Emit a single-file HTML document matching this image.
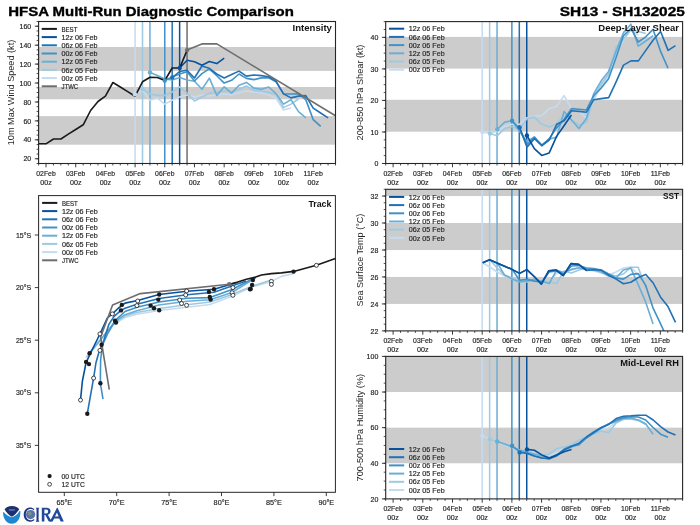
<!DOCTYPE html><html><head><meta charset="utf-8"><style>html,body{margin:0;padding:0;background:#fff;}svg{display:block;will-change:transform;}</style></head><body>
<svg width="700" height="525" viewBox="0 0 700 525" font-family='"Liberation Sans", sans-serif'>
<rect x="0" y="0" width="700" height="525" fill="#fff"/>
<text x="8.20" y="15.50" font-size="12.9" text-anchor="start" font-weight="bold" fill="#000" textLength="285.6" lengthAdjust="spacingAndGlyphs" stroke="#000" stroke-width="0.35">HFSA Multi-Run Diagnostic Comparison</text>
<text x="684.80" y="15.50" font-size="12.9" text-anchor="end" font-weight="bold" fill="#000" textLength="125.0" lengthAdjust="spacingAndGlyphs" stroke="#000" stroke-width="0.35">SH13 - SH132025</text>
<rect x="38.6" y="47.0" width="296.9" height="23.90" fill="#cccccc"/>
<rect x="38.6" y="87.0" width="296.9" height="12.30" fill="#cccccc"/>
<rect x="38.6" y="116.1" width="296.9" height="28.60" fill="#cccccc"/>
<line x1="135.09" y1="21.50" x2="135.09" y2="163.50" stroke="#c6dbef" stroke-width="1.5"/>
<line x1="142.51" y1="21.50" x2="142.51" y2="163.50" stroke="#9ecae1" stroke-width="1.5"/>
<line x1="149.94" y1="21.50" x2="149.94" y2="163.50" stroke="#6baed6" stroke-width="1.5"/>
<line x1="164.78" y1="21.50" x2="164.78" y2="163.50" stroke="#4292c6" stroke-width="1.5"/>
<line x1="172.20" y1="21.50" x2="172.20" y2="163.50" stroke="#2171b5" stroke-width="1.5"/>
<line x1="179.63" y1="21.50" x2="179.63" y2="163.50" stroke="#08519c" stroke-width="1.5"/>
<line x1="187.05" y1="21.50" x2="187.05" y2="163.50" stroke="#6e6e6e" stroke-width="1.5"/>
<polyline points="135.0,94.3 142.4,90.0 149.8,100.2 157.3,98.0 164.7,104.1 172.1,100.2 179.5,97.0 187.0,95.0 194.4,97.0 201.8,95.0 209.2,96.0 216.6,95.0 224.1,94.0 231.5,95.0 238.9,92.7 246.3,91.0 253.8,92.0 261.2,93.0 268.6,95.0 276.0,98.0 283.5,110.0 290.9,108.0" fill="none" stroke="#c6dbef" stroke-width="1.6" stroke-linejoin="round" stroke-linecap="butt"/>
<polyline points="142.5,89.0 149.9,94.0 157.3,95.4 164.8,95.4 172.2,92.0 179.6,86.8 187.0,93.0 194.5,101.0 201.9,97.0 209.3,93.4 216.7,92.0 224.1,91.0 231.6,92.0 239.0,89.3 246.4,85.9 253.8,90.4 261.3,91.0 268.7,92.5 276.1,94.0 283.5,107.6 291.0,104.1 298.4,99.0" fill="none" stroke="#9ecae1" stroke-width="1.6" stroke-linejoin="round" stroke-linecap="butt"/>
<polyline points="150.0,72.4 157.4,75.5 164.8,79.0 172.3,80.0 179.7,77.5 187.1,80.0 194.5,81.3 202.0,89.2 209.4,78.1 216.8,95.4 224.2,86.8 231.6,93.1 239.1,85.3 246.5,82.4 253.9,88.1 261.3,89.3 268.8,87.0 276.2,93.9 283.6,104.1 291.0,99.6 298.5,111.6 305.9,117.9" fill="none" stroke="#6baed6" stroke-width="1.6" stroke-linejoin="round" stroke-linecap="butt"/>
<polyline points="164.8,80.5 172.2,77.0 179.6,74.0 187.1,71.7 194.5,81.0 201.9,73.6 209.3,68.9 216.8,75.7 224.2,83.1 231.6,80.3 239.0,74.0 246.4,78.4 253.9,79.6 261.3,77.9 268.7,77.9 276.1,81.9 283.6,93.9 291.0,94.0 298.4,93.9 305.8,99.6 313.2,119.6 320.7,126.4" fill="none" stroke="#4292c6" stroke-width="1.6" stroke-linejoin="round" stroke-linecap="butt"/>
<polyline points="172.2,77.5 179.6,71.5 187.0,70.2 194.5,78.0 201.9,66.0 209.3,68.3 216.7,74.0 224.2,78.0 231.6,74.6 239.0,71.1 246.4,76.1 253.8,75.0 261.3,75.6 268.7,76.7 276.1,81.3 283.5,93.9 291.0,97.9 298.4,96.1 305.8,95.6 313.2,108.1 320.6,113.0 328.1,117.9" fill="none" stroke="#2171b5" stroke-width="1.6" stroke-linejoin="round" stroke-linecap="butt"/>
<polyline points="179.7,67.9 187.1,60.2 194.5,61.7 202.0,65.2 209.4,61.5 216.8,63.6 224.2,58.2" fill="none" stroke="#08519c" stroke-width="1.6" stroke-linejoin="round" stroke-linecap="butt"/>
<polyline points="38.6,143.8 46.0,143.8 53.5,139.0 60.9,139.0 68.3,134.2 75.7,129.5 83.2,124.8 90.6,110.5 98.0,101.5 105.4,96.2 112.9,82.5 120.3,87.0 127.7,91.6 135.1,96.2 142.5,81.8 150.0,77.3 157.4,77.5 164.8,80.5 172.2,68.0 179.7,68.0 187.1,50.1" fill="none" stroke="#1a1a1a" stroke-width="1.6" stroke-linejoin="round" stroke-linecap="butt"/>
<polyline points="187.1,50.1 201.9,43.9 216.8,43.9 335.5,115.8" fill="none" stroke="#6e6e6e" stroke-width="1.6" stroke-linejoin="round" stroke-linecap="butt"/>
<circle cx="135.0" cy="94.3" r="2.2" fill="#c6dbef"/>
<circle cx="142.5" cy="89.0" r="2.2" fill="#9ecae1"/>
<circle cx="150.0" cy="72.4" r="2.2" fill="#6baed6"/>
<circle cx="164.8" cy="80.5" r="2.2" fill="#4292c6"/>
<circle cx="172.2" cy="77.5" r="2.2" fill="#2171b5"/>
<circle cx="179.7" cy="67.9" r="2.2" fill="#08519c"/>
<circle cx="187.1" cy="50.1" r="2.2" fill="#6e6e6e"/>
<rect x="38.60" y="21.50" width="296.90" height="142.00" fill="none" stroke="#262626" stroke-width="1.1"/>
<line x1="36.60" y1="163.50" x2="38.60" y2="163.50" stroke="#262626" stroke-width="0.8"/>
<line x1="36.60" y1="158.77" x2="38.60" y2="158.77" stroke="#262626" stroke-width="0.8"/>
<line x1="36.60" y1="154.03" x2="38.60" y2="154.03" stroke="#262626" stroke-width="0.8"/>
<line x1="36.60" y1="149.30" x2="38.60" y2="149.30" stroke="#262626" stroke-width="0.8"/>
<line x1="36.60" y1="144.57" x2="38.60" y2="144.57" stroke="#262626" stroke-width="0.8"/>
<line x1="36.60" y1="139.83" x2="38.60" y2="139.83" stroke="#262626" stroke-width="0.8"/>
<line x1="36.60" y1="135.10" x2="38.60" y2="135.10" stroke="#262626" stroke-width="0.8"/>
<line x1="36.60" y1="130.37" x2="38.60" y2="130.37" stroke="#262626" stroke-width="0.8"/>
<line x1="36.60" y1="125.63" x2="38.60" y2="125.63" stroke="#262626" stroke-width="0.8"/>
<line x1="36.60" y1="120.90" x2="38.60" y2="120.90" stroke="#262626" stroke-width="0.8"/>
<line x1="36.60" y1="116.17" x2="38.60" y2="116.17" stroke="#262626" stroke-width="0.8"/>
<line x1="36.60" y1="111.43" x2="38.60" y2="111.43" stroke="#262626" stroke-width="0.8"/>
<line x1="36.60" y1="106.70" x2="38.60" y2="106.70" stroke="#262626" stroke-width="0.8"/>
<line x1="36.60" y1="101.97" x2="38.60" y2="101.97" stroke="#262626" stroke-width="0.8"/>
<line x1="36.60" y1="97.23" x2="38.60" y2="97.23" stroke="#262626" stroke-width="0.8"/>
<line x1="36.60" y1="92.50" x2="38.60" y2="92.50" stroke="#262626" stroke-width="0.8"/>
<line x1="36.60" y1="87.77" x2="38.60" y2="87.77" stroke="#262626" stroke-width="0.8"/>
<line x1="36.60" y1="83.03" x2="38.60" y2="83.03" stroke="#262626" stroke-width="0.8"/>
<line x1="36.60" y1="78.30" x2="38.60" y2="78.30" stroke="#262626" stroke-width="0.8"/>
<line x1="36.60" y1="73.57" x2="38.60" y2="73.57" stroke="#262626" stroke-width="0.8"/>
<line x1="36.60" y1="68.83" x2="38.60" y2="68.83" stroke="#262626" stroke-width="0.8"/>
<line x1="36.60" y1="64.10" x2="38.60" y2="64.10" stroke="#262626" stroke-width="0.8"/>
<line x1="36.60" y1="59.37" x2="38.60" y2="59.37" stroke="#262626" stroke-width="0.8"/>
<line x1="36.60" y1="54.63" x2="38.60" y2="54.63" stroke="#262626" stroke-width="0.8"/>
<line x1="36.60" y1="49.90" x2="38.60" y2="49.90" stroke="#262626" stroke-width="0.8"/>
<line x1="36.60" y1="45.17" x2="38.60" y2="45.17" stroke="#262626" stroke-width="0.8"/>
<line x1="36.60" y1="40.43" x2="38.60" y2="40.43" stroke="#262626" stroke-width="0.8"/>
<line x1="36.60" y1="35.70" x2="38.60" y2="35.70" stroke="#262626" stroke-width="0.8"/>
<line x1="36.60" y1="30.97" x2="38.60" y2="30.97" stroke="#262626" stroke-width="0.8"/>
<line x1="36.60" y1="26.23" x2="38.60" y2="26.23" stroke="#262626" stroke-width="0.8"/>
<line x1="36.60" y1="21.50" x2="38.60" y2="21.50" stroke="#262626" stroke-width="0.8"/>
<line x1="34.80" y1="158.77" x2="38.60" y2="158.77" stroke="#262626" stroke-width="0.9"/>
<text x="31.20" y="161.37" font-size="7.4" text-anchor="end" font-weight="normal" fill="#262626" textLength="7.8" lengthAdjust="spacingAndGlyphs" stroke="#262626" stroke-width="0.18">20</text>
<line x1="34.80" y1="139.83" x2="38.60" y2="139.83" stroke="#262626" stroke-width="0.9"/>
<text x="31.20" y="142.43" font-size="7.4" text-anchor="end" font-weight="normal" fill="#262626" textLength="7.8" lengthAdjust="spacingAndGlyphs" stroke="#262626" stroke-width="0.18">40</text>
<line x1="34.80" y1="120.90" x2="38.60" y2="120.90" stroke="#262626" stroke-width="0.9"/>
<text x="31.20" y="123.50" font-size="7.4" text-anchor="end" font-weight="normal" fill="#262626" textLength="7.8" lengthAdjust="spacingAndGlyphs" stroke="#262626" stroke-width="0.18">60</text>
<line x1="34.80" y1="101.97" x2="38.60" y2="101.97" stroke="#262626" stroke-width="0.9"/>
<text x="31.20" y="104.57" font-size="7.4" text-anchor="end" font-weight="normal" fill="#262626" textLength="7.8" lengthAdjust="spacingAndGlyphs" stroke="#262626" stroke-width="0.18">80</text>
<line x1="34.80" y1="83.03" x2="38.60" y2="83.03" stroke="#262626" stroke-width="0.9"/>
<text x="31.20" y="85.63" font-size="7.4" text-anchor="end" font-weight="normal" fill="#262626" textLength="11.7" lengthAdjust="spacingAndGlyphs" stroke="#262626" stroke-width="0.18">100</text>
<line x1="34.80" y1="64.10" x2="38.60" y2="64.10" stroke="#262626" stroke-width="0.9"/>
<text x="31.20" y="66.70" font-size="7.4" text-anchor="end" font-weight="normal" fill="#262626" textLength="11.7" lengthAdjust="spacingAndGlyphs" stroke="#262626" stroke-width="0.18">120</text>
<line x1="34.80" y1="45.17" x2="38.60" y2="45.17" stroke="#262626" stroke-width="0.9"/>
<text x="31.20" y="47.77" font-size="7.4" text-anchor="end" font-weight="normal" fill="#262626" textLength="11.7" lengthAdjust="spacingAndGlyphs" stroke="#262626" stroke-width="0.18">140</text>
<line x1="34.80" y1="26.23" x2="38.60" y2="26.23" stroke="#262626" stroke-width="0.9"/>
<text x="31.20" y="28.83" font-size="7.4" text-anchor="end" font-weight="normal" fill="#262626" textLength="11.7" lengthAdjust="spacingAndGlyphs" stroke="#262626" stroke-width="0.18">160</text>
<line x1="38.60" y1="163.50" x2="38.60" y2="165.50" stroke="#262626" stroke-width="0.8"/>
<line x1="46.02" y1="163.50" x2="46.02" y2="167.30" stroke="#262626" stroke-width="0.9"/>
<line x1="53.45" y1="163.50" x2="53.45" y2="165.50" stroke="#262626" stroke-width="0.8"/>
<line x1="60.87" y1="163.50" x2="60.87" y2="165.50" stroke="#262626" stroke-width="0.8"/>
<line x1="68.29" y1="163.50" x2="68.29" y2="165.50" stroke="#262626" stroke-width="0.8"/>
<line x1="75.71" y1="163.50" x2="75.71" y2="167.30" stroke="#262626" stroke-width="0.9"/>
<line x1="83.13" y1="163.50" x2="83.13" y2="165.50" stroke="#262626" stroke-width="0.8"/>
<line x1="90.56" y1="163.50" x2="90.56" y2="165.50" stroke="#262626" stroke-width="0.8"/>
<line x1="97.98" y1="163.50" x2="97.98" y2="165.50" stroke="#262626" stroke-width="0.8"/>
<line x1="105.40" y1="163.50" x2="105.40" y2="167.30" stroke="#262626" stroke-width="0.9"/>
<line x1="112.82" y1="163.50" x2="112.82" y2="165.50" stroke="#262626" stroke-width="0.8"/>
<line x1="120.25" y1="163.50" x2="120.25" y2="165.50" stroke="#262626" stroke-width="0.8"/>
<line x1="127.67" y1="163.50" x2="127.67" y2="165.50" stroke="#262626" stroke-width="0.8"/>
<line x1="135.09" y1="163.50" x2="135.09" y2="167.30" stroke="#262626" stroke-width="0.9"/>
<line x1="142.51" y1="163.50" x2="142.51" y2="165.50" stroke="#262626" stroke-width="0.8"/>
<line x1="149.94" y1="163.50" x2="149.94" y2="165.50" stroke="#262626" stroke-width="0.8"/>
<line x1="157.36" y1="163.50" x2="157.36" y2="165.50" stroke="#262626" stroke-width="0.8"/>
<line x1="164.78" y1="163.50" x2="164.78" y2="167.30" stroke="#262626" stroke-width="0.9"/>
<line x1="172.20" y1="163.50" x2="172.20" y2="165.50" stroke="#262626" stroke-width="0.8"/>
<line x1="179.63" y1="163.50" x2="179.63" y2="165.50" stroke="#262626" stroke-width="0.8"/>
<line x1="187.05" y1="163.50" x2="187.05" y2="165.50" stroke="#262626" stroke-width="0.8"/>
<line x1="194.47" y1="163.50" x2="194.47" y2="167.30" stroke="#262626" stroke-width="0.9"/>
<line x1="201.89" y1="163.50" x2="201.89" y2="165.50" stroke="#262626" stroke-width="0.8"/>
<line x1="209.32" y1="163.50" x2="209.32" y2="165.50" stroke="#262626" stroke-width="0.8"/>
<line x1="216.74" y1="163.50" x2="216.74" y2="165.50" stroke="#262626" stroke-width="0.8"/>
<line x1="224.16" y1="163.50" x2="224.16" y2="167.30" stroke="#262626" stroke-width="0.9"/>
<line x1="231.58" y1="163.50" x2="231.58" y2="165.50" stroke="#262626" stroke-width="0.8"/>
<line x1="239.01" y1="163.50" x2="239.01" y2="165.50" stroke="#262626" stroke-width="0.8"/>
<line x1="246.43" y1="163.50" x2="246.43" y2="165.50" stroke="#262626" stroke-width="0.8"/>
<line x1="253.85" y1="163.50" x2="253.85" y2="167.30" stroke="#262626" stroke-width="0.9"/>
<line x1="261.28" y1="163.50" x2="261.28" y2="165.50" stroke="#262626" stroke-width="0.8"/>
<line x1="268.70" y1="163.50" x2="268.70" y2="165.50" stroke="#262626" stroke-width="0.8"/>
<line x1="276.12" y1="163.50" x2="276.12" y2="165.50" stroke="#262626" stroke-width="0.8"/>
<line x1="283.54" y1="163.50" x2="283.54" y2="167.30" stroke="#262626" stroke-width="0.9"/>
<line x1="290.96" y1="163.50" x2="290.96" y2="165.50" stroke="#262626" stroke-width="0.8"/>
<line x1="298.39" y1="163.50" x2="298.39" y2="165.50" stroke="#262626" stroke-width="0.8"/>
<line x1="305.81" y1="163.50" x2="305.81" y2="165.50" stroke="#262626" stroke-width="0.8"/>
<line x1="313.23" y1="163.50" x2="313.23" y2="167.30" stroke="#262626" stroke-width="0.9"/>
<line x1="320.65" y1="163.50" x2="320.65" y2="165.50" stroke="#262626" stroke-width="0.8"/>
<line x1="328.08" y1="163.50" x2="328.08" y2="165.50" stroke="#262626" stroke-width="0.8"/>
<line x1="335.50" y1="163.50" x2="335.50" y2="165.50" stroke="#262626" stroke-width="0.8"/>
<text x="46.02" y="176.00" font-size="7.4" text-anchor="middle" font-weight="normal" fill="#262626" textLength="19.4" lengthAdjust="spacingAndGlyphs" stroke="#262626" stroke-width="0.18">02Feb</text>
<text x="46.02" y="184.90" font-size="7.4" text-anchor="middle" font-weight="normal" fill="#262626" textLength="11.5" lengthAdjust="spacingAndGlyphs" stroke="#262626" stroke-width="0.18">00z</text>
<text x="75.71" y="176.00" font-size="7.4" text-anchor="middle" font-weight="normal" fill="#262626" textLength="19.4" lengthAdjust="spacingAndGlyphs" stroke="#262626" stroke-width="0.18">03Feb</text>
<text x="75.71" y="184.90" font-size="7.4" text-anchor="middle" font-weight="normal" fill="#262626" textLength="11.5" lengthAdjust="spacingAndGlyphs" stroke="#262626" stroke-width="0.18">00z</text>
<text x="105.40" y="176.00" font-size="7.4" text-anchor="middle" font-weight="normal" fill="#262626" textLength="19.4" lengthAdjust="spacingAndGlyphs" stroke="#262626" stroke-width="0.18">04Feb</text>
<text x="105.40" y="184.90" font-size="7.4" text-anchor="middle" font-weight="normal" fill="#262626" textLength="11.5" lengthAdjust="spacingAndGlyphs" stroke="#262626" stroke-width="0.18">00z</text>
<text x="135.09" y="176.00" font-size="7.4" text-anchor="middle" font-weight="normal" fill="#262626" textLength="19.4" lengthAdjust="spacingAndGlyphs" stroke="#262626" stroke-width="0.18">05Feb</text>
<text x="135.09" y="184.90" font-size="7.4" text-anchor="middle" font-weight="normal" fill="#262626" textLength="11.5" lengthAdjust="spacingAndGlyphs" stroke="#262626" stroke-width="0.18">00z</text>
<text x="164.78" y="176.00" font-size="7.4" text-anchor="middle" font-weight="normal" fill="#262626" textLength="19.4" lengthAdjust="spacingAndGlyphs" stroke="#262626" stroke-width="0.18">06Feb</text>
<text x="164.78" y="184.90" font-size="7.4" text-anchor="middle" font-weight="normal" fill="#262626" textLength="11.5" lengthAdjust="spacingAndGlyphs" stroke="#262626" stroke-width="0.18">00z</text>
<text x="194.47" y="176.00" font-size="7.4" text-anchor="middle" font-weight="normal" fill="#262626" textLength="19.4" lengthAdjust="spacingAndGlyphs" stroke="#262626" stroke-width="0.18">07Feb</text>
<text x="194.47" y="184.90" font-size="7.4" text-anchor="middle" font-weight="normal" fill="#262626" textLength="11.5" lengthAdjust="spacingAndGlyphs" stroke="#262626" stroke-width="0.18">00z</text>
<text x="224.16" y="176.00" font-size="7.4" text-anchor="middle" font-weight="normal" fill="#262626" textLength="19.4" lengthAdjust="spacingAndGlyphs" stroke="#262626" stroke-width="0.18">08Feb</text>
<text x="224.16" y="184.90" font-size="7.4" text-anchor="middle" font-weight="normal" fill="#262626" textLength="11.5" lengthAdjust="spacingAndGlyphs" stroke="#262626" stroke-width="0.18">00z</text>
<text x="253.85" y="176.00" font-size="7.4" text-anchor="middle" font-weight="normal" fill="#262626" textLength="19.4" lengthAdjust="spacingAndGlyphs" stroke="#262626" stroke-width="0.18">09Feb</text>
<text x="253.85" y="184.90" font-size="7.4" text-anchor="middle" font-weight="normal" fill="#262626" textLength="11.5" lengthAdjust="spacingAndGlyphs" stroke="#262626" stroke-width="0.18">00z</text>
<text x="283.54" y="176.00" font-size="7.4" text-anchor="middle" font-weight="normal" fill="#262626" textLength="19.4" lengthAdjust="spacingAndGlyphs" stroke="#262626" stroke-width="0.18">10Feb</text>
<text x="283.54" y="184.90" font-size="7.4" text-anchor="middle" font-weight="normal" fill="#262626" textLength="11.5" lengthAdjust="spacingAndGlyphs" stroke="#262626" stroke-width="0.18">00z</text>
<text x="313.23" y="176.00" font-size="7.4" text-anchor="middle" font-weight="normal" fill="#262626" textLength="19.4" lengthAdjust="spacingAndGlyphs" stroke="#262626" stroke-width="0.18">11Feb</text>
<text x="313.23" y="184.90" font-size="7.4" text-anchor="middle" font-weight="normal" fill="#262626" textLength="11.5" lengthAdjust="spacingAndGlyphs" stroke="#262626" stroke-width="0.18">00z</text>
<text x="0" y="0" font-size="8.2" text-anchor="middle" fill="#262626" textLength="105.5" lengthAdjust="spacingAndGlyphs" transform="translate(14.00,92.50) rotate(-90)">10m Max Wind Speed (kt)</text>
<text x="331.90" y="30.90" font-size="8.4" text-anchor="end" font-weight="bold" fill="#111" textLength="39.4" lengthAdjust="spacingAndGlyphs">Intensity</text>
<line x1="41.70" y1="28.90" x2="56.90" y2="28.90" stroke="#1a1a1a" stroke-width="2.0"/>
<text x="61.50" y="31.50" font-size="7.4" text-anchor="start" font-weight="normal" fill="#262626" textLength="15.9" lengthAdjust="spacingAndGlyphs" stroke="#262626" stroke-width="0.18">BEST</text>
<line x1="41.70" y1="37.10" x2="56.90" y2="37.10" stroke="#08519c" stroke-width="2.0"/>
<text x="61.50" y="39.70" font-size="7.4" text-anchor="start" font-weight="normal" fill="#262626" textLength="35.9" lengthAdjust="spacingAndGlyphs" stroke="#262626" stroke-width="0.18">12z 06 Feb</text>
<line x1="41.70" y1="45.30" x2="56.90" y2="45.30" stroke="#2171b5" stroke-width="2.0"/>
<text x="61.50" y="47.90" font-size="7.4" text-anchor="start" font-weight="normal" fill="#262626" textLength="35.9" lengthAdjust="spacingAndGlyphs" stroke="#262626" stroke-width="0.18">06z 06 Feb</text>
<line x1="41.70" y1="53.50" x2="56.90" y2="53.50" stroke="#4292c6" stroke-width="2.0"/>
<text x="61.50" y="56.10" font-size="7.4" text-anchor="start" font-weight="normal" fill="#262626" textLength="35.9" lengthAdjust="spacingAndGlyphs" stroke="#262626" stroke-width="0.18">00z 06 Feb</text>
<line x1="41.70" y1="61.70" x2="56.90" y2="61.70" stroke="#6baed6" stroke-width="2.0"/>
<text x="61.50" y="64.30" font-size="7.4" text-anchor="start" font-weight="normal" fill="#262626" textLength="35.9" lengthAdjust="spacingAndGlyphs" stroke="#262626" stroke-width="0.18">12z 05 Feb</text>
<line x1="41.70" y1="69.90" x2="56.90" y2="69.90" stroke="#9ecae1" stroke-width="2.0"/>
<text x="61.50" y="72.50" font-size="7.4" text-anchor="start" font-weight="normal" fill="#262626" textLength="35.9" lengthAdjust="spacingAndGlyphs" stroke="#262626" stroke-width="0.18">06z 05 Feb</text>
<line x1="41.70" y1="78.10" x2="56.90" y2="78.10" stroke="#c6dbef" stroke-width="2.0"/>
<text x="61.50" y="80.70" font-size="7.4" text-anchor="start" font-weight="normal" fill="#262626" textLength="35.9" lengthAdjust="spacingAndGlyphs" stroke="#262626" stroke-width="0.18">00z 05 Feb</text>
<line x1="41.70" y1="86.30" x2="56.90" y2="86.30" stroke="#6e6e6e" stroke-width="2.0"/>
<text x="61.50" y="88.90" font-size="7.4" text-anchor="start" font-weight="normal" fill="#262626" textLength="16.7" lengthAdjust="spacingAndGlyphs" stroke="#262626" stroke-width="0.18">JTWC</text>
<rect x="385.7" y="36.9" width="296.9" height="31.70" fill="#cccccc"/>
<rect x="385.7" y="99.8" width="296.9" height="31.90" fill="#cccccc"/>
<line x1="482.19" y1="21.60" x2="482.19" y2="163.50" stroke="#c6dbef" stroke-width="1.5"/>
<line x1="489.62" y1="21.60" x2="489.62" y2="163.50" stroke="#9ecae1" stroke-width="1.5"/>
<line x1="497.04" y1="21.60" x2="497.04" y2="163.50" stroke="#6baed6" stroke-width="1.5"/>
<line x1="511.88" y1="21.60" x2="511.88" y2="163.50" stroke="#4292c6" stroke-width="1.5"/>
<line x1="519.31" y1="21.60" x2="519.31" y2="163.50" stroke="#2171b5" stroke-width="1.5"/>
<line x1="526.73" y1="21.60" x2="526.73" y2="163.50" stroke="#08519c" stroke-width="1.5"/>
<polyline points="482.4,132.1 489.8,132.9 497.2,131.4 504.7,126.4 512.1,124.3 519.5,124.3 526.9,117.9 534.4,116.4 541.8,115.7 549.2,108.6 556.6,106.4 564.0,95.7 571.5,108.6 578.9,111.4 586.3,118.0 593.7,100.0 601.2,86.0 608.6,76.0 616.0,55.0 623.4,40.0 630.9,30.0 638.3,35.0" fill="none" stroke="#c6dbef" stroke-width="1.6" stroke-linejoin="round" stroke-linecap="butt"/>
<polyline points="489.9,133.6 497.3,135.7 504.7,128.6 512.2,126.4 519.6,129.3 527.0,118.6 534.4,117.1 541.9,124.3 549.3,127.1 556.7,123.6 564.1,115.0 571.5,120.0 579.0,125.0 586.4,122.7 593.8,97.0 601.2,84.0 608.7,74.0 616.1,47.3 623.5,38.9 630.9,29.4 638.4,31.5 645.8,33.6" fill="none" stroke="#9ecae1" stroke-width="1.6" stroke-linejoin="round" stroke-linecap="butt"/>
<polyline points="497.3,129.3 504.7,122.1 512.1,120.7 519.6,131.4 527.0,141.4 534.4,137.0 541.8,145.0 549.3,139.3 556.7,137.1 564.1,111.4 571.5,120.0 578.9,128.6 586.4,118.5 593.8,93.4 601.2,80.8 608.6,71.4 616.1,51.4 623.5,32.6 630.9,24.2 638.3,46.2 645.8,41.0 653.2,35.7" fill="none" stroke="#6baed6" stroke-width="1.6" stroke-linejoin="round" stroke-linecap="butt"/>
<polyline points="512.1,120.7 519.5,128.6 526.9,144.3 534.4,137.1 541.8,145.7 549.2,138.6 556.6,127.9 564.1,119.3 571.5,108.6 578.9,109.3 586.3,110.0 593.7,95.5 601.2,88.1 608.6,78.7 616.0,57.7 623.4,35.7 630.9,28.4 638.3,42.0 645.7,36.8 653.1,29.4 660.6,51.4 668.0,68.2" fill="none" stroke="#4292c6" stroke-width="1.6" stroke-linejoin="round" stroke-linecap="butt"/>
<polyline points="519.6,127.4 527.0,147.1 534.4,138.6 541.9,145.7 549.3,140.0 556.7,124.3 564.1,120.7 571.6,110.7 579.0,111.4 586.4,112.2 593.8,99.7 601.2,98.6 608.7,97.6 616.1,81.8 623.5,65.1 630.9,60.9 638.4,60.9 645.8,50.4 653.2,40.0 660.6,31.5 668.1,50.4 675.5,45.6" fill="none" stroke="#2171b5" stroke-width="1.6" stroke-linejoin="round" stroke-linecap="butt"/>
<polyline points="526.9,135.4 534.3,148.6 541.7,155.4 549.2,152.9 556.6,136.4 564.0,125.7 571.4,115.0" fill="none" stroke="#08519c" stroke-width="1.6" stroke-linejoin="round" stroke-linecap="butt"/>
<circle cx="482.4" cy="132.1" r="2.2" fill="#c6dbef"/>
<circle cx="489.9" cy="133.6" r="2.2" fill="#9ecae1"/>
<circle cx="497.3" cy="129.3" r="2.2" fill="#6baed6"/>
<circle cx="512.1" cy="120.7" r="2.2" fill="#4292c6"/>
<circle cx="519.6" cy="127.4" r="2.2" fill="#2171b5"/>
<circle cx="526.9" cy="135.4" r="2.2" fill="#08519c"/>
<rect x="385.70" y="21.60" width="296.90" height="141.90" fill="none" stroke="#262626" stroke-width="1.1"/>
<line x1="383.70" y1="163.50" x2="385.70" y2="163.50" stroke="#262626" stroke-width="0.8"/>
<line x1="383.70" y1="155.62" x2="385.70" y2="155.62" stroke="#262626" stroke-width="0.8"/>
<line x1="383.70" y1="147.73" x2="385.70" y2="147.73" stroke="#262626" stroke-width="0.8"/>
<line x1="383.70" y1="139.85" x2="385.70" y2="139.85" stroke="#262626" stroke-width="0.8"/>
<line x1="383.70" y1="131.97" x2="385.70" y2="131.97" stroke="#262626" stroke-width="0.8"/>
<line x1="383.70" y1="124.08" x2="385.70" y2="124.08" stroke="#262626" stroke-width="0.8"/>
<line x1="383.70" y1="116.20" x2="385.70" y2="116.20" stroke="#262626" stroke-width="0.8"/>
<line x1="383.70" y1="108.32" x2="385.70" y2="108.32" stroke="#262626" stroke-width="0.8"/>
<line x1="383.70" y1="100.43" x2="385.70" y2="100.43" stroke="#262626" stroke-width="0.8"/>
<line x1="383.70" y1="92.55" x2="385.70" y2="92.55" stroke="#262626" stroke-width="0.8"/>
<line x1="383.70" y1="84.67" x2="385.70" y2="84.67" stroke="#262626" stroke-width="0.8"/>
<line x1="383.70" y1="76.78" x2="385.70" y2="76.78" stroke="#262626" stroke-width="0.8"/>
<line x1="383.70" y1="68.90" x2="385.70" y2="68.90" stroke="#262626" stroke-width="0.8"/>
<line x1="383.70" y1="61.02" x2="385.70" y2="61.02" stroke="#262626" stroke-width="0.8"/>
<line x1="383.70" y1="53.13" x2="385.70" y2="53.13" stroke="#262626" stroke-width="0.8"/>
<line x1="383.70" y1="45.25" x2="385.70" y2="45.25" stroke="#262626" stroke-width="0.8"/>
<line x1="383.70" y1="37.37" x2="385.70" y2="37.37" stroke="#262626" stroke-width="0.8"/>
<line x1="383.70" y1="29.48" x2="385.70" y2="29.48" stroke="#262626" stroke-width="0.8"/>
<line x1="383.70" y1="21.60" x2="385.70" y2="21.60" stroke="#262626" stroke-width="0.8"/>
<line x1="381.90" y1="163.50" x2="385.70" y2="163.50" stroke="#262626" stroke-width="0.9"/>
<text x="378.30" y="166.10" font-size="7.4" text-anchor="end" font-weight="normal" fill="#262626" textLength="3.9" lengthAdjust="spacingAndGlyphs" stroke="#262626" stroke-width="0.18">0</text>
<line x1="381.90" y1="131.97" x2="385.70" y2="131.97" stroke="#262626" stroke-width="0.9"/>
<text x="378.30" y="134.57" font-size="7.4" text-anchor="end" font-weight="normal" fill="#262626" textLength="7.8" lengthAdjust="spacingAndGlyphs" stroke="#262626" stroke-width="0.18">10</text>
<line x1="381.90" y1="100.43" x2="385.70" y2="100.43" stroke="#262626" stroke-width="0.9"/>
<text x="378.30" y="103.03" font-size="7.4" text-anchor="end" font-weight="normal" fill="#262626" textLength="7.8" lengthAdjust="spacingAndGlyphs" stroke="#262626" stroke-width="0.18">20</text>
<line x1="381.90" y1="68.90" x2="385.70" y2="68.90" stroke="#262626" stroke-width="0.9"/>
<text x="378.30" y="71.50" font-size="7.4" text-anchor="end" font-weight="normal" fill="#262626" textLength="7.8" lengthAdjust="spacingAndGlyphs" stroke="#262626" stroke-width="0.18">30</text>
<line x1="381.90" y1="37.37" x2="385.70" y2="37.37" stroke="#262626" stroke-width="0.9"/>
<text x="378.30" y="39.97" font-size="7.4" text-anchor="end" font-weight="normal" fill="#262626" textLength="7.8" lengthAdjust="spacingAndGlyphs" stroke="#262626" stroke-width="0.18">40</text>
<line x1="385.70" y1="163.50" x2="385.70" y2="165.50" stroke="#262626" stroke-width="0.8"/>
<line x1="393.12" y1="163.50" x2="393.12" y2="167.30" stroke="#262626" stroke-width="0.9"/>
<line x1="400.55" y1="163.50" x2="400.55" y2="165.50" stroke="#262626" stroke-width="0.8"/>
<line x1="407.97" y1="163.50" x2="407.97" y2="165.50" stroke="#262626" stroke-width="0.8"/>
<line x1="415.39" y1="163.50" x2="415.39" y2="165.50" stroke="#262626" stroke-width="0.8"/>
<line x1="422.81" y1="163.50" x2="422.81" y2="167.30" stroke="#262626" stroke-width="0.9"/>
<line x1="430.24" y1="163.50" x2="430.24" y2="165.50" stroke="#262626" stroke-width="0.8"/>
<line x1="437.66" y1="163.50" x2="437.66" y2="165.50" stroke="#262626" stroke-width="0.8"/>
<line x1="445.08" y1="163.50" x2="445.08" y2="165.50" stroke="#262626" stroke-width="0.8"/>
<line x1="452.50" y1="163.50" x2="452.50" y2="167.30" stroke="#262626" stroke-width="0.9"/>
<line x1="459.93" y1="163.50" x2="459.93" y2="165.50" stroke="#262626" stroke-width="0.8"/>
<line x1="467.35" y1="163.50" x2="467.35" y2="165.50" stroke="#262626" stroke-width="0.8"/>
<line x1="474.77" y1="163.50" x2="474.77" y2="165.50" stroke="#262626" stroke-width="0.8"/>
<line x1="482.19" y1="163.50" x2="482.19" y2="167.30" stroke="#262626" stroke-width="0.9"/>
<line x1="489.62" y1="163.50" x2="489.62" y2="165.50" stroke="#262626" stroke-width="0.8"/>
<line x1="497.04" y1="163.50" x2="497.04" y2="165.50" stroke="#262626" stroke-width="0.8"/>
<line x1="504.46" y1="163.50" x2="504.46" y2="165.50" stroke="#262626" stroke-width="0.8"/>
<line x1="511.88" y1="163.50" x2="511.88" y2="167.30" stroke="#262626" stroke-width="0.9"/>
<line x1="519.31" y1="163.50" x2="519.31" y2="165.50" stroke="#262626" stroke-width="0.8"/>
<line x1="526.73" y1="163.50" x2="526.73" y2="165.50" stroke="#262626" stroke-width="0.8"/>
<line x1="534.15" y1="163.50" x2="534.15" y2="165.50" stroke="#262626" stroke-width="0.8"/>
<line x1="541.57" y1="163.50" x2="541.57" y2="167.30" stroke="#262626" stroke-width="0.9"/>
<line x1="549.00" y1="163.50" x2="549.00" y2="165.50" stroke="#262626" stroke-width="0.8"/>
<line x1="556.42" y1="163.50" x2="556.42" y2="165.50" stroke="#262626" stroke-width="0.8"/>
<line x1="563.84" y1="163.50" x2="563.84" y2="165.50" stroke="#262626" stroke-width="0.8"/>
<line x1="571.26" y1="163.50" x2="571.26" y2="167.30" stroke="#262626" stroke-width="0.9"/>
<line x1="578.68" y1="163.50" x2="578.68" y2="165.50" stroke="#262626" stroke-width="0.8"/>
<line x1="586.11" y1="163.50" x2="586.11" y2="165.50" stroke="#262626" stroke-width="0.8"/>
<line x1="593.53" y1="163.50" x2="593.53" y2="165.50" stroke="#262626" stroke-width="0.8"/>
<line x1="600.95" y1="163.50" x2="600.95" y2="167.30" stroke="#262626" stroke-width="0.9"/>
<line x1="608.38" y1="163.50" x2="608.38" y2="165.50" stroke="#262626" stroke-width="0.8"/>
<line x1="615.80" y1="163.50" x2="615.80" y2="165.50" stroke="#262626" stroke-width="0.8"/>
<line x1="623.22" y1="163.50" x2="623.22" y2="165.50" stroke="#262626" stroke-width="0.8"/>
<line x1="630.64" y1="163.50" x2="630.64" y2="167.30" stroke="#262626" stroke-width="0.9"/>
<line x1="638.07" y1="163.50" x2="638.07" y2="165.50" stroke="#262626" stroke-width="0.8"/>
<line x1="645.49" y1="163.50" x2="645.49" y2="165.50" stroke="#262626" stroke-width="0.8"/>
<line x1="652.91" y1="163.50" x2="652.91" y2="165.50" stroke="#262626" stroke-width="0.8"/>
<line x1="660.33" y1="163.50" x2="660.33" y2="167.30" stroke="#262626" stroke-width="0.9"/>
<line x1="667.75" y1="163.50" x2="667.75" y2="165.50" stroke="#262626" stroke-width="0.8"/>
<line x1="675.18" y1="163.50" x2="675.18" y2="165.50" stroke="#262626" stroke-width="0.8"/>
<line x1="682.60" y1="163.50" x2="682.60" y2="165.50" stroke="#262626" stroke-width="0.8"/>
<text x="393.12" y="176.00" font-size="7.4" text-anchor="middle" font-weight="normal" fill="#262626" textLength="19.4" lengthAdjust="spacingAndGlyphs" stroke="#262626" stroke-width="0.18">02Feb</text>
<text x="393.12" y="184.90" font-size="7.4" text-anchor="middle" font-weight="normal" fill="#262626" textLength="11.5" lengthAdjust="spacingAndGlyphs" stroke="#262626" stroke-width="0.18">00z</text>
<text x="422.81" y="176.00" font-size="7.4" text-anchor="middle" font-weight="normal" fill="#262626" textLength="19.4" lengthAdjust="spacingAndGlyphs" stroke="#262626" stroke-width="0.18">03Feb</text>
<text x="422.81" y="184.90" font-size="7.4" text-anchor="middle" font-weight="normal" fill="#262626" textLength="11.5" lengthAdjust="spacingAndGlyphs" stroke="#262626" stroke-width="0.18">00z</text>
<text x="452.50" y="176.00" font-size="7.4" text-anchor="middle" font-weight="normal" fill="#262626" textLength="19.4" lengthAdjust="spacingAndGlyphs" stroke="#262626" stroke-width="0.18">04Feb</text>
<text x="452.50" y="184.90" font-size="7.4" text-anchor="middle" font-weight="normal" fill="#262626" textLength="11.5" lengthAdjust="spacingAndGlyphs" stroke="#262626" stroke-width="0.18">00z</text>
<text x="482.19" y="176.00" font-size="7.4" text-anchor="middle" font-weight="normal" fill="#262626" textLength="19.4" lengthAdjust="spacingAndGlyphs" stroke="#262626" stroke-width="0.18">05Feb</text>
<text x="482.19" y="184.90" font-size="7.4" text-anchor="middle" font-weight="normal" fill="#262626" textLength="11.5" lengthAdjust="spacingAndGlyphs" stroke="#262626" stroke-width="0.18">00z</text>
<text x="511.88" y="176.00" font-size="7.4" text-anchor="middle" font-weight="normal" fill="#262626" textLength="19.4" lengthAdjust="spacingAndGlyphs" stroke="#262626" stroke-width="0.18">06Feb</text>
<text x="511.88" y="184.90" font-size="7.4" text-anchor="middle" font-weight="normal" fill="#262626" textLength="11.5" lengthAdjust="spacingAndGlyphs" stroke="#262626" stroke-width="0.18">00z</text>
<text x="541.57" y="176.00" font-size="7.4" text-anchor="middle" font-weight="normal" fill="#262626" textLength="19.4" lengthAdjust="spacingAndGlyphs" stroke="#262626" stroke-width="0.18">07Feb</text>
<text x="541.57" y="184.90" font-size="7.4" text-anchor="middle" font-weight="normal" fill="#262626" textLength="11.5" lengthAdjust="spacingAndGlyphs" stroke="#262626" stroke-width="0.18">00z</text>
<text x="571.26" y="176.00" font-size="7.4" text-anchor="middle" font-weight="normal" fill="#262626" textLength="19.4" lengthAdjust="spacingAndGlyphs" stroke="#262626" stroke-width="0.18">08Feb</text>
<text x="571.26" y="184.90" font-size="7.4" text-anchor="middle" font-weight="normal" fill="#262626" textLength="11.5" lengthAdjust="spacingAndGlyphs" stroke="#262626" stroke-width="0.18">00z</text>
<text x="600.95" y="176.00" font-size="7.4" text-anchor="middle" font-weight="normal" fill="#262626" textLength="19.4" lengthAdjust="spacingAndGlyphs" stroke="#262626" stroke-width="0.18">09Feb</text>
<text x="600.95" y="184.90" font-size="7.4" text-anchor="middle" font-weight="normal" fill="#262626" textLength="11.5" lengthAdjust="spacingAndGlyphs" stroke="#262626" stroke-width="0.18">00z</text>
<text x="630.64" y="176.00" font-size="7.4" text-anchor="middle" font-weight="normal" fill="#262626" textLength="19.4" lengthAdjust="spacingAndGlyphs" stroke="#262626" stroke-width="0.18">10Feb</text>
<text x="630.64" y="184.90" font-size="7.4" text-anchor="middle" font-weight="normal" fill="#262626" textLength="11.5" lengthAdjust="spacingAndGlyphs" stroke="#262626" stroke-width="0.18">00z</text>
<text x="660.33" y="176.00" font-size="7.4" text-anchor="middle" font-weight="normal" fill="#262626" textLength="19.4" lengthAdjust="spacingAndGlyphs" stroke="#262626" stroke-width="0.18">11Feb</text>
<text x="660.33" y="184.90" font-size="7.4" text-anchor="middle" font-weight="normal" fill="#262626" textLength="11.5" lengthAdjust="spacingAndGlyphs" stroke="#262626" stroke-width="0.18">00z</text>
<text x="0" y="0" font-size="8.2" text-anchor="middle" fill="#262626" textLength="95.7" lengthAdjust="spacingAndGlyphs" transform="translate(363.10,92.55) rotate(-90)">200-850 hPa Shear (kt)</text>
<text x="679.00" y="31.00" font-size="8.4" text-anchor="end" font-weight="bold" fill="#111" textLength="80.7" lengthAdjust="spacingAndGlyphs">Deep-Layer Shear</text>
<line x1="389.00" y1="28.70" x2="404.20" y2="28.70" stroke="#08519c" stroke-width="2.0"/>
<text x="408.80" y="31.30" font-size="7.4" text-anchor="start" font-weight="normal" fill="#262626" textLength="35.9" lengthAdjust="spacingAndGlyphs" stroke="#262626" stroke-width="0.18">12z 06 Feb</text>
<line x1="389.00" y1="36.90" x2="404.20" y2="36.90" stroke="#2171b5" stroke-width="2.0"/>
<text x="408.80" y="39.50" font-size="7.4" text-anchor="start" font-weight="normal" fill="#262626" textLength="35.9" lengthAdjust="spacingAndGlyphs" stroke="#262626" stroke-width="0.18">06z 06 Feb</text>
<line x1="389.00" y1="45.10" x2="404.20" y2="45.10" stroke="#4292c6" stroke-width="2.0"/>
<text x="408.80" y="47.70" font-size="7.4" text-anchor="start" font-weight="normal" fill="#262626" textLength="35.9" lengthAdjust="spacingAndGlyphs" stroke="#262626" stroke-width="0.18">00z 06 Feb</text>
<line x1="389.00" y1="53.30" x2="404.20" y2="53.30" stroke="#6baed6" stroke-width="2.0"/>
<text x="408.80" y="55.90" font-size="7.4" text-anchor="start" font-weight="normal" fill="#262626" textLength="35.9" lengthAdjust="spacingAndGlyphs" stroke="#262626" stroke-width="0.18">12z 05 Feb</text>
<line x1="389.00" y1="61.50" x2="404.20" y2="61.50" stroke="#9ecae1" stroke-width="2.0"/>
<text x="408.80" y="64.10" font-size="7.4" text-anchor="start" font-weight="normal" fill="#262626" textLength="35.9" lengthAdjust="spacingAndGlyphs" stroke="#262626" stroke-width="0.18">06z 05 Feb</text>
<line x1="389.00" y1="69.70" x2="404.20" y2="69.70" stroke="#c6dbef" stroke-width="2.0"/>
<text x="408.80" y="72.30" font-size="7.4" text-anchor="start" font-weight="normal" fill="#262626" textLength="35.9" lengthAdjust="spacingAndGlyphs" stroke="#262626" stroke-width="0.18">00z 05 Feb</text>
<rect x="385.70" y="276.96" width="296.90" height="26.97" fill="#cccccc"/>
<rect x="385.70" y="223.01" width="296.90" height="26.97" fill="#cccccc"/>
<rect x="385.70" y="189.30" width="296.90" height="6.74" fill="#cccccc"/>
<line x1="482.19" y1="189.30" x2="482.19" y2="330.90" stroke="#c6dbef" stroke-width="1.5"/>
<line x1="489.62" y1="189.30" x2="489.62" y2="330.90" stroke="#9ecae1" stroke-width="1.5"/>
<line x1="497.04" y1="189.30" x2="497.04" y2="330.90" stroke="#6baed6" stroke-width="1.5"/>
<line x1="511.88" y1="189.30" x2="511.88" y2="330.90" stroke="#4292c6" stroke-width="1.5"/>
<line x1="519.31" y1="189.30" x2="519.31" y2="330.90" stroke="#2171b5" stroke-width="1.5"/>
<line x1="526.73" y1="189.30" x2="526.73" y2="330.90" stroke="#08519c" stroke-width="1.5"/>
<clipPath id="csst"><rect x="385.7" y="189.3" width="296.90" height="141.60"/></clipPath>
<g clip-path="url(#csst)">
<polyline points="482.4,262.7 489.8,267.0 497.2,272.0 504.7,276.0 512.1,279.0 519.5,281.0 526.9,281.0 534.4,280.0 541.8,281.0 549.2,283.0 556.6,273.0 564.0,272.0 571.5,270.0 578.9,268.0 586.3,269.0 593.7,271.0 601.2,273.0 608.6,275.0 616.0,272.0 623.4,268.0 630.9,267.0 638.3,275.2" fill="none" stroke="#c6dbef" stroke-width="1.6" stroke-linejoin="round" stroke-linecap="butt"/>
<polyline points="489.8,259.7 497.2,268.0 504.6,275.1 512.1,278.0 519.5,281.0 526.9,282.0 534.3,280.0 541.8,281.0 549.2,282.0 556.6,283.5 564.0,271.0 571.4,273.0 578.9,270.0 586.3,268.0 593.7,269.4 601.1,271.0 608.6,274.0 616.0,276.0 623.4,274.0 630.8,267.3 638.2,267.3 645.7,287.7" fill="none" stroke="#9ecae1" stroke-width="1.6" stroke-linejoin="round" stroke-linecap="butt"/>
<polyline points="497.2,262.7 504.6,275.1 512.0,279.0 519.5,282.0 526.9,281.0 534.3,279.4 541.7,281.2 549.2,283.5 556.6,270.2 564.0,272.5 571.4,269.4 578.8,267.8 586.3,269.4 593.7,270.0 601.1,272.0 608.5,276.0 616.0,278.0 623.4,270.0 630.8,268.1 638.2,284.6 645.6,301.9 653.1,323.9" fill="none" stroke="#6baed6" stroke-width="1.6" stroke-linejoin="round" stroke-linecap="butt"/>
<polyline points="512.1,269.1 519.5,280.3 526.9,279.4 534.4,281.1 541.8,282.0 549.2,272.0 556.6,271.0 564.1,274.0 571.5,266.0 578.9,265.5 586.3,268.0 593.7,268.5 601.2,270.0 608.6,274.0 616.0,278.0 623.4,279.1 630.9,274.4 638.3,273.6 645.7,285.4 653.1,308.2 660.6,323.9 668.0,340.0" fill="none" stroke="#4292c6" stroke-width="1.6" stroke-linejoin="round" stroke-linecap="butt"/>
<polyline points="482.7,262.7 489.6,259.7 496.4,262.7 504.0,266.0 511.4,269.1 519.6,273.4 526.8,269.6 534.2,276.5 541.4,284.1 548.7,270.9 556.0,270.0 563.3,275.6 571.0,263.6 578.7,264.4 586.4,270.4 593.8,269.7 601.2,270.1 608.6,275.2 616.1,279.1 623.5,283.8 630.9,282.2 638.3,277.5 645.8,274.4 653.2,283.0 660.6,297.2 668.0,306.6 675.5,322.3" fill="none" stroke="#2171b5" stroke-width="1.6" stroke-linejoin="round" stroke-linecap="butt"/>
<polyline points="482.7,262.7 489.6,259.7 496.4,262.7 504.0,266.0 511.4,269.1 519.6,273.4 526.8,269.6 534.2,276.5 541.4,284.1 548.7,270.9 556.0,270.0 563.3,275.6 571.0,263.6 578.7,264.4 586.4,270.4" fill="none" stroke="#08519c" stroke-width="1.6" stroke-linejoin="round" stroke-linecap="butt"/>
</g>
<rect x="385.70" y="189.30" width="296.90" height="141.60" fill="none" stroke="#262626" stroke-width="1.1"/>
<line x1="383.70" y1="330.90" x2="385.70" y2="330.90" stroke="#262626" stroke-width="0.8"/>
<line x1="383.70" y1="324.16" x2="385.70" y2="324.16" stroke="#262626" stroke-width="0.8"/>
<line x1="383.70" y1="317.41" x2="385.70" y2="317.41" stroke="#262626" stroke-width="0.8"/>
<line x1="383.70" y1="310.67" x2="385.70" y2="310.67" stroke="#262626" stroke-width="0.8"/>
<line x1="383.70" y1="303.93" x2="385.70" y2="303.93" stroke="#262626" stroke-width="0.8"/>
<line x1="383.70" y1="297.19" x2="385.70" y2="297.19" stroke="#262626" stroke-width="0.8"/>
<line x1="383.70" y1="290.44" x2="385.70" y2="290.44" stroke="#262626" stroke-width="0.8"/>
<line x1="383.70" y1="283.70" x2="385.70" y2="283.70" stroke="#262626" stroke-width="0.8"/>
<line x1="383.70" y1="276.96" x2="385.70" y2="276.96" stroke="#262626" stroke-width="0.8"/>
<line x1="383.70" y1="270.21" x2="385.70" y2="270.21" stroke="#262626" stroke-width="0.8"/>
<line x1="383.70" y1="263.47" x2="385.70" y2="263.47" stroke="#262626" stroke-width="0.8"/>
<line x1="383.70" y1="256.73" x2="385.70" y2="256.73" stroke="#262626" stroke-width="0.8"/>
<line x1="383.70" y1="249.99" x2="385.70" y2="249.99" stroke="#262626" stroke-width="0.8"/>
<line x1="383.70" y1="243.24" x2="385.70" y2="243.24" stroke="#262626" stroke-width="0.8"/>
<line x1="383.70" y1="236.50" x2="385.70" y2="236.50" stroke="#262626" stroke-width="0.8"/>
<line x1="383.70" y1="229.76" x2="385.70" y2="229.76" stroke="#262626" stroke-width="0.8"/>
<line x1="383.70" y1="223.01" x2="385.70" y2="223.01" stroke="#262626" stroke-width="0.8"/>
<line x1="383.70" y1="216.27" x2="385.70" y2="216.27" stroke="#262626" stroke-width="0.8"/>
<line x1="383.70" y1="209.53" x2="385.70" y2="209.53" stroke="#262626" stroke-width="0.8"/>
<line x1="383.70" y1="202.79" x2="385.70" y2="202.79" stroke="#262626" stroke-width="0.8"/>
<line x1="383.70" y1="196.04" x2="385.70" y2="196.04" stroke="#262626" stroke-width="0.8"/>
<line x1="383.70" y1="189.30" x2="385.70" y2="189.30" stroke="#262626" stroke-width="0.8"/>
<line x1="381.90" y1="330.90" x2="385.70" y2="330.90" stroke="#262626" stroke-width="0.9"/>
<text x="378.30" y="333.50" font-size="7.4" text-anchor="end" font-weight="normal" fill="#262626" textLength="7.8" lengthAdjust="spacingAndGlyphs" stroke="#262626" stroke-width="0.18">22</text>
<line x1="381.90" y1="303.93" x2="385.70" y2="303.93" stroke="#262626" stroke-width="0.9"/>
<text x="378.30" y="306.53" font-size="7.4" text-anchor="end" font-weight="normal" fill="#262626" textLength="7.8" lengthAdjust="spacingAndGlyphs" stroke="#262626" stroke-width="0.18">24</text>
<line x1="381.90" y1="276.96" x2="385.70" y2="276.96" stroke="#262626" stroke-width="0.9"/>
<text x="378.30" y="279.56" font-size="7.4" text-anchor="end" font-weight="normal" fill="#262626" textLength="7.8" lengthAdjust="spacingAndGlyphs" stroke="#262626" stroke-width="0.18">26</text>
<line x1="381.90" y1="249.99" x2="385.70" y2="249.99" stroke="#262626" stroke-width="0.9"/>
<text x="378.30" y="252.59" font-size="7.4" text-anchor="end" font-weight="normal" fill="#262626" textLength="7.8" lengthAdjust="spacingAndGlyphs" stroke="#262626" stroke-width="0.18">28</text>
<line x1="381.90" y1="223.01" x2="385.70" y2="223.01" stroke="#262626" stroke-width="0.9"/>
<text x="378.30" y="225.61" font-size="7.4" text-anchor="end" font-weight="normal" fill="#262626" textLength="7.8" lengthAdjust="spacingAndGlyphs" stroke="#262626" stroke-width="0.18">30</text>
<line x1="381.90" y1="196.04" x2="385.70" y2="196.04" stroke="#262626" stroke-width="0.9"/>
<text x="378.30" y="198.64" font-size="7.4" text-anchor="end" font-weight="normal" fill="#262626" textLength="7.8" lengthAdjust="spacingAndGlyphs" stroke="#262626" stroke-width="0.18">32</text>
<line x1="385.70" y1="330.90" x2="385.70" y2="332.90" stroke="#262626" stroke-width="0.8"/>
<line x1="393.12" y1="330.90" x2="393.12" y2="334.70" stroke="#262626" stroke-width="0.9"/>
<line x1="400.55" y1="330.90" x2="400.55" y2="332.90" stroke="#262626" stroke-width="0.8"/>
<line x1="407.97" y1="330.90" x2="407.97" y2="332.90" stroke="#262626" stroke-width="0.8"/>
<line x1="415.39" y1="330.90" x2="415.39" y2="332.90" stroke="#262626" stroke-width="0.8"/>
<line x1="422.81" y1="330.90" x2="422.81" y2="334.70" stroke="#262626" stroke-width="0.9"/>
<line x1="430.24" y1="330.90" x2="430.24" y2="332.90" stroke="#262626" stroke-width="0.8"/>
<line x1="437.66" y1="330.90" x2="437.66" y2="332.90" stroke="#262626" stroke-width="0.8"/>
<line x1="445.08" y1="330.90" x2="445.08" y2="332.90" stroke="#262626" stroke-width="0.8"/>
<line x1="452.50" y1="330.90" x2="452.50" y2="334.70" stroke="#262626" stroke-width="0.9"/>
<line x1="459.93" y1="330.90" x2="459.93" y2="332.90" stroke="#262626" stroke-width="0.8"/>
<line x1="467.35" y1="330.90" x2="467.35" y2="332.90" stroke="#262626" stroke-width="0.8"/>
<line x1="474.77" y1="330.90" x2="474.77" y2="332.90" stroke="#262626" stroke-width="0.8"/>
<line x1="482.19" y1="330.90" x2="482.19" y2="334.70" stroke="#262626" stroke-width="0.9"/>
<line x1="489.62" y1="330.90" x2="489.62" y2="332.90" stroke="#262626" stroke-width="0.8"/>
<line x1="497.04" y1="330.90" x2="497.04" y2="332.90" stroke="#262626" stroke-width="0.8"/>
<line x1="504.46" y1="330.90" x2="504.46" y2="332.90" stroke="#262626" stroke-width="0.8"/>
<line x1="511.88" y1="330.90" x2="511.88" y2="334.70" stroke="#262626" stroke-width="0.9"/>
<line x1="519.31" y1="330.90" x2="519.31" y2="332.90" stroke="#262626" stroke-width="0.8"/>
<line x1="526.73" y1="330.90" x2="526.73" y2="332.90" stroke="#262626" stroke-width="0.8"/>
<line x1="534.15" y1="330.90" x2="534.15" y2="332.90" stroke="#262626" stroke-width="0.8"/>
<line x1="541.57" y1="330.90" x2="541.57" y2="334.70" stroke="#262626" stroke-width="0.9"/>
<line x1="549.00" y1="330.90" x2="549.00" y2="332.90" stroke="#262626" stroke-width="0.8"/>
<line x1="556.42" y1="330.90" x2="556.42" y2="332.90" stroke="#262626" stroke-width="0.8"/>
<line x1="563.84" y1="330.90" x2="563.84" y2="332.90" stroke="#262626" stroke-width="0.8"/>
<line x1="571.26" y1="330.90" x2="571.26" y2="334.70" stroke="#262626" stroke-width="0.9"/>
<line x1="578.68" y1="330.90" x2="578.68" y2="332.90" stroke="#262626" stroke-width="0.8"/>
<line x1="586.11" y1="330.90" x2="586.11" y2="332.90" stroke="#262626" stroke-width="0.8"/>
<line x1="593.53" y1="330.90" x2="593.53" y2="332.90" stroke="#262626" stroke-width="0.8"/>
<line x1="600.95" y1="330.90" x2="600.95" y2="334.70" stroke="#262626" stroke-width="0.9"/>
<line x1="608.38" y1="330.90" x2="608.38" y2="332.90" stroke="#262626" stroke-width="0.8"/>
<line x1="615.80" y1="330.90" x2="615.80" y2="332.90" stroke="#262626" stroke-width="0.8"/>
<line x1="623.22" y1="330.90" x2="623.22" y2="332.90" stroke="#262626" stroke-width="0.8"/>
<line x1="630.64" y1="330.90" x2="630.64" y2="334.70" stroke="#262626" stroke-width="0.9"/>
<line x1="638.07" y1="330.90" x2="638.07" y2="332.90" stroke="#262626" stroke-width="0.8"/>
<line x1="645.49" y1="330.90" x2="645.49" y2="332.90" stroke="#262626" stroke-width="0.8"/>
<line x1="652.91" y1="330.90" x2="652.91" y2="332.90" stroke="#262626" stroke-width="0.8"/>
<line x1="660.33" y1="330.90" x2="660.33" y2="334.70" stroke="#262626" stroke-width="0.9"/>
<line x1="667.75" y1="330.90" x2="667.75" y2="332.90" stroke="#262626" stroke-width="0.8"/>
<line x1="675.18" y1="330.90" x2="675.18" y2="332.90" stroke="#262626" stroke-width="0.8"/>
<line x1="682.60" y1="330.90" x2="682.60" y2="332.90" stroke="#262626" stroke-width="0.8"/>
<text x="393.12" y="343.40" font-size="7.4" text-anchor="middle" font-weight="normal" fill="#262626" textLength="19.4" lengthAdjust="spacingAndGlyphs" stroke="#262626" stroke-width="0.18">02Feb</text>
<text x="393.12" y="352.30" font-size="7.4" text-anchor="middle" font-weight="normal" fill="#262626" textLength="11.5" lengthAdjust="spacingAndGlyphs" stroke="#262626" stroke-width="0.18">00z</text>
<text x="422.81" y="343.40" font-size="7.4" text-anchor="middle" font-weight="normal" fill="#262626" textLength="19.4" lengthAdjust="spacingAndGlyphs" stroke="#262626" stroke-width="0.18">03Feb</text>
<text x="422.81" y="352.30" font-size="7.4" text-anchor="middle" font-weight="normal" fill="#262626" textLength="11.5" lengthAdjust="spacingAndGlyphs" stroke="#262626" stroke-width="0.18">00z</text>
<text x="452.50" y="343.40" font-size="7.4" text-anchor="middle" font-weight="normal" fill="#262626" textLength="19.4" lengthAdjust="spacingAndGlyphs" stroke="#262626" stroke-width="0.18">04Feb</text>
<text x="452.50" y="352.30" font-size="7.4" text-anchor="middle" font-weight="normal" fill="#262626" textLength="11.5" lengthAdjust="spacingAndGlyphs" stroke="#262626" stroke-width="0.18">00z</text>
<text x="482.19" y="343.40" font-size="7.4" text-anchor="middle" font-weight="normal" fill="#262626" textLength="19.4" lengthAdjust="spacingAndGlyphs" stroke="#262626" stroke-width="0.18">05Feb</text>
<text x="482.19" y="352.30" font-size="7.4" text-anchor="middle" font-weight="normal" fill="#262626" textLength="11.5" lengthAdjust="spacingAndGlyphs" stroke="#262626" stroke-width="0.18">00z</text>
<text x="511.88" y="343.40" font-size="7.4" text-anchor="middle" font-weight="normal" fill="#262626" textLength="19.4" lengthAdjust="spacingAndGlyphs" stroke="#262626" stroke-width="0.18">06Feb</text>
<text x="511.88" y="352.30" font-size="7.4" text-anchor="middle" font-weight="normal" fill="#262626" textLength="11.5" lengthAdjust="spacingAndGlyphs" stroke="#262626" stroke-width="0.18">00z</text>
<text x="541.57" y="343.40" font-size="7.4" text-anchor="middle" font-weight="normal" fill="#262626" textLength="19.4" lengthAdjust="spacingAndGlyphs" stroke="#262626" stroke-width="0.18">07Feb</text>
<text x="541.57" y="352.30" font-size="7.4" text-anchor="middle" font-weight="normal" fill="#262626" textLength="11.5" lengthAdjust="spacingAndGlyphs" stroke="#262626" stroke-width="0.18">00z</text>
<text x="571.26" y="343.40" font-size="7.4" text-anchor="middle" font-weight="normal" fill="#262626" textLength="19.4" lengthAdjust="spacingAndGlyphs" stroke="#262626" stroke-width="0.18">08Feb</text>
<text x="571.26" y="352.30" font-size="7.4" text-anchor="middle" font-weight="normal" fill="#262626" textLength="11.5" lengthAdjust="spacingAndGlyphs" stroke="#262626" stroke-width="0.18">00z</text>
<text x="600.95" y="343.40" font-size="7.4" text-anchor="middle" font-weight="normal" fill="#262626" textLength="19.4" lengthAdjust="spacingAndGlyphs" stroke="#262626" stroke-width="0.18">09Feb</text>
<text x="600.95" y="352.30" font-size="7.4" text-anchor="middle" font-weight="normal" fill="#262626" textLength="11.5" lengthAdjust="spacingAndGlyphs" stroke="#262626" stroke-width="0.18">00z</text>
<text x="630.64" y="343.40" font-size="7.4" text-anchor="middle" font-weight="normal" fill="#262626" textLength="19.4" lengthAdjust="spacingAndGlyphs" stroke="#262626" stroke-width="0.18">10Feb</text>
<text x="630.64" y="352.30" font-size="7.4" text-anchor="middle" font-weight="normal" fill="#262626" textLength="11.5" lengthAdjust="spacingAndGlyphs" stroke="#262626" stroke-width="0.18">00z</text>
<text x="660.33" y="343.40" font-size="7.4" text-anchor="middle" font-weight="normal" fill="#262626" textLength="19.4" lengthAdjust="spacingAndGlyphs" stroke="#262626" stroke-width="0.18">11Feb</text>
<text x="660.33" y="352.30" font-size="7.4" text-anchor="middle" font-weight="normal" fill="#262626" textLength="11.5" lengthAdjust="spacingAndGlyphs" stroke="#262626" stroke-width="0.18">00z</text>
<text x="0" y="0" font-size="8.2" text-anchor="middle" fill="#262626" textLength="92.8" lengthAdjust="spacingAndGlyphs" transform="translate(363.10,260.10) rotate(-90)">Sea Surface Temp (°C)</text>
<text x="679.00" y="198.70" font-size="8.4" text-anchor="end" font-weight="bold" fill="#111" textLength="16.1" lengthAdjust="spacingAndGlyphs">SST</text>
<line x1="389.00" y1="196.90" x2="404.20" y2="196.90" stroke="#08519c" stroke-width="2.0"/>
<text x="408.80" y="199.50" font-size="7.4" text-anchor="start" font-weight="normal" fill="#262626" textLength="35.9" lengthAdjust="spacingAndGlyphs" stroke="#262626" stroke-width="0.18">12z 06 Feb</text>
<line x1="389.00" y1="205.10" x2="404.20" y2="205.10" stroke="#2171b5" stroke-width="2.0"/>
<text x="408.80" y="207.70" font-size="7.4" text-anchor="start" font-weight="normal" fill="#262626" textLength="35.9" lengthAdjust="spacingAndGlyphs" stroke="#262626" stroke-width="0.18">06z 06 Feb</text>
<line x1="389.00" y1="213.30" x2="404.20" y2="213.30" stroke="#4292c6" stroke-width="2.0"/>
<text x="408.80" y="215.90" font-size="7.4" text-anchor="start" font-weight="normal" fill="#262626" textLength="35.9" lengthAdjust="spacingAndGlyphs" stroke="#262626" stroke-width="0.18">00z 06 Feb</text>
<line x1="389.00" y1="221.50" x2="404.20" y2="221.50" stroke="#6baed6" stroke-width="2.0"/>
<text x="408.80" y="224.10" font-size="7.4" text-anchor="start" font-weight="normal" fill="#262626" textLength="35.9" lengthAdjust="spacingAndGlyphs" stroke="#262626" stroke-width="0.18">12z 05 Feb</text>
<line x1="389.00" y1="229.70" x2="404.20" y2="229.70" stroke="#9ecae1" stroke-width="2.0"/>
<text x="408.80" y="232.30" font-size="7.4" text-anchor="start" font-weight="normal" fill="#262626" textLength="35.9" lengthAdjust="spacingAndGlyphs" stroke="#262626" stroke-width="0.18">06z 05 Feb</text>
<line x1="389.00" y1="237.90" x2="404.20" y2="237.90" stroke="#c6dbef" stroke-width="2.0"/>
<text x="408.80" y="240.50" font-size="7.4" text-anchor="start" font-weight="normal" fill="#262626" textLength="35.9" lengthAdjust="spacingAndGlyphs" stroke="#262626" stroke-width="0.18">00z 05 Feb</text>
<rect x="385.70" y="427.65" width="296.90" height="35.62" fill="#cccccc"/>
<rect x="385.70" y="356.40" width="296.90" height="35.62" fill="#cccccc"/>
<line x1="482.19" y1="356.40" x2="482.19" y2="498.90" stroke="#c6dbef" stroke-width="1.5"/>
<line x1="489.62" y1="356.40" x2="489.62" y2="498.90" stroke="#9ecae1" stroke-width="1.5"/>
<line x1="497.04" y1="356.40" x2="497.04" y2="498.90" stroke="#6baed6" stroke-width="1.5"/>
<line x1="511.88" y1="356.40" x2="511.88" y2="498.90" stroke="#4292c6" stroke-width="1.5"/>
<line x1="519.31" y1="356.40" x2="519.31" y2="498.90" stroke="#2171b5" stroke-width="1.5"/>
<line x1="526.73" y1="356.40" x2="526.73" y2="498.90" stroke="#08519c" stroke-width="1.5"/>
<polyline points="482.4,435.7 489.8,439.0 497.2,442.0 504.7,445.0 512.1,447.5 519.5,450.0 526.9,452.0 534.4,453.5 541.8,454.5 549.2,455.0 556.6,453.0 564.0,448.0 571.5,446.0 578.9,443.0 586.3,438.0 593.7,434.0 601.2,430.0 608.6,428.0 616.0,422.0 623.4,419.5 630.9,419.0 638.3,421.0" fill="none" stroke="#c6dbef" stroke-width="1.6" stroke-linejoin="round" stroke-linecap="butt"/>
<polyline points="489.8,439.2 497.2,441.5 504.6,444.0 512.1,447.0 519.5,450.0 526.9,452.0 534.3,454.0 541.8,455.0 549.2,454.1 556.6,448.6 564.0,447.0 571.4,445.0 578.9,440.0 586.3,437.0 593.7,434.0 601.1,431.0 608.6,432.7 616.0,423.0 623.4,419.2 630.8,418.5 638.2,420.0 645.7,424.5" fill="none" stroke="#9ecae1" stroke-width="1.6" stroke-linejoin="round" stroke-linecap="butt"/>
<polyline points="497.2,441.5 504.6,444.0 512.0,447.0 519.5,450.0 526.9,452.0 534.3,454.0 541.7,456.0 549.2,458.0 556.6,456.0 564.0,450.0 571.4,447.0 578.8,444.7 586.3,438.0 593.7,433.0 601.1,428.0 608.5,424.0 616.0,421.5 623.4,418.5 630.8,418.2 638.2,420.0 645.6,423.7 653.1,434.2" fill="none" stroke="#6baed6" stroke-width="1.6" stroke-linejoin="round" stroke-linecap="butt"/>
<polyline points="512.1,445.8 519.5,451.7 526.9,453.3 534.4,456.0 541.8,458.0 549.2,458.8 556.6,455.0 564.1,449.0 571.5,446.0 578.9,444.7 586.3,438.0 593.7,433.0 601.2,428.0 608.6,424.0 616.0,420.0 623.4,417.7 630.9,416.7 638.3,417.0 645.7,420.0 653.1,427.5 660.6,434.2 668.0,437.2" fill="none" stroke="#4292c6" stroke-width="1.6" stroke-linejoin="round" stroke-linecap="butt"/>
<polyline points="519.6,452.5 527.0,453.3 534.4,456.0 541.9,458.0 549.3,458.8 556.7,455.7 564.1,450.0 571.6,446.2 579.0,443.2 586.4,437.0 593.8,432.0 601.2,427.5 608.7,424.5 616.1,418.5 623.5,416.2 630.9,415.8 638.4,415.2 645.8,415.2 653.2,420.0 660.6,426.7 668.1,432.0 675.5,435.0" fill="none" stroke="#2171b5" stroke-width="1.6" stroke-linejoin="round" stroke-linecap="butt"/>
<polyline points="527.0,449.4 534.4,450.2 541.8,454.9 549.3,458.0 556.7,454.9 564.1,451.7 571.5,449.4" fill="none" stroke="#08519c" stroke-width="1.6" stroke-linejoin="round" stroke-linecap="butt"/>
<circle cx="482.4" cy="435.7" r="2.2" fill="#c6dbef"/>
<circle cx="489.8" cy="439.2" r="2.2" fill="#9ecae1"/>
<circle cx="497.2" cy="441.5" r="2.2" fill="#6baed6"/>
<circle cx="512.1" cy="445.8" r="2.2" fill="#4292c6"/>
<circle cx="519.6" cy="452.5" r="2.2" fill="#2171b5"/>
<circle cx="527.0" cy="449.4" r="2.2" fill="#08519c"/>
<rect x="385.70" y="356.40" width="296.90" height="142.50" fill="none" stroke="#262626" stroke-width="1.1"/>
<line x1="383.70" y1="498.90" x2="385.70" y2="498.90" stroke="#262626" stroke-width="0.8"/>
<line x1="383.70" y1="489.99" x2="385.70" y2="489.99" stroke="#262626" stroke-width="0.8"/>
<line x1="383.70" y1="481.09" x2="385.70" y2="481.09" stroke="#262626" stroke-width="0.8"/>
<line x1="383.70" y1="472.18" x2="385.70" y2="472.18" stroke="#262626" stroke-width="0.8"/>
<line x1="383.70" y1="463.27" x2="385.70" y2="463.27" stroke="#262626" stroke-width="0.8"/>
<line x1="383.70" y1="454.37" x2="385.70" y2="454.37" stroke="#262626" stroke-width="0.8"/>
<line x1="383.70" y1="445.46" x2="385.70" y2="445.46" stroke="#262626" stroke-width="0.8"/>
<line x1="383.70" y1="436.56" x2="385.70" y2="436.56" stroke="#262626" stroke-width="0.8"/>
<line x1="383.70" y1="427.65" x2="385.70" y2="427.65" stroke="#262626" stroke-width="0.8"/>
<line x1="383.70" y1="418.74" x2="385.70" y2="418.74" stroke="#262626" stroke-width="0.8"/>
<line x1="383.70" y1="409.84" x2="385.70" y2="409.84" stroke="#262626" stroke-width="0.8"/>
<line x1="383.70" y1="400.93" x2="385.70" y2="400.93" stroke="#262626" stroke-width="0.8"/>
<line x1="383.70" y1="392.02" x2="385.70" y2="392.02" stroke="#262626" stroke-width="0.8"/>
<line x1="383.70" y1="383.12" x2="385.70" y2="383.12" stroke="#262626" stroke-width="0.8"/>
<line x1="383.70" y1="374.21" x2="385.70" y2="374.21" stroke="#262626" stroke-width="0.8"/>
<line x1="383.70" y1="365.31" x2="385.70" y2="365.31" stroke="#262626" stroke-width="0.8"/>
<line x1="383.70" y1="356.40" x2="385.70" y2="356.40" stroke="#262626" stroke-width="0.8"/>
<line x1="381.90" y1="498.90" x2="385.70" y2="498.90" stroke="#262626" stroke-width="0.9"/>
<text x="378.30" y="501.50" font-size="7.4" text-anchor="end" font-weight="normal" fill="#262626" textLength="7.8" lengthAdjust="spacingAndGlyphs" stroke="#262626" stroke-width="0.18">20</text>
<line x1="381.90" y1="463.27" x2="385.70" y2="463.27" stroke="#262626" stroke-width="0.9"/>
<text x="378.30" y="465.88" font-size="7.4" text-anchor="end" font-weight="normal" fill="#262626" textLength="7.8" lengthAdjust="spacingAndGlyphs" stroke="#262626" stroke-width="0.18">40</text>
<line x1="381.90" y1="427.65" x2="385.70" y2="427.65" stroke="#262626" stroke-width="0.9"/>
<text x="378.30" y="430.25" font-size="7.4" text-anchor="end" font-weight="normal" fill="#262626" textLength="7.8" lengthAdjust="spacingAndGlyphs" stroke="#262626" stroke-width="0.18">60</text>
<line x1="381.90" y1="392.02" x2="385.70" y2="392.02" stroke="#262626" stroke-width="0.9"/>
<text x="378.30" y="394.62" font-size="7.4" text-anchor="end" font-weight="normal" fill="#262626" textLength="7.8" lengthAdjust="spacingAndGlyphs" stroke="#262626" stroke-width="0.18">80</text>
<line x1="381.90" y1="356.40" x2="385.70" y2="356.40" stroke="#262626" stroke-width="0.9"/>
<text x="378.30" y="359.00" font-size="7.4" text-anchor="end" font-weight="normal" fill="#262626" textLength="11.7" lengthAdjust="spacingAndGlyphs" stroke="#262626" stroke-width="0.18">100</text>
<line x1="385.70" y1="498.90" x2="385.70" y2="500.90" stroke="#262626" stroke-width="0.8"/>
<line x1="393.12" y1="498.90" x2="393.12" y2="502.70" stroke="#262626" stroke-width="0.9"/>
<line x1="400.55" y1="498.90" x2="400.55" y2="500.90" stroke="#262626" stroke-width="0.8"/>
<line x1="407.97" y1="498.90" x2="407.97" y2="500.90" stroke="#262626" stroke-width="0.8"/>
<line x1="415.39" y1="498.90" x2="415.39" y2="500.90" stroke="#262626" stroke-width="0.8"/>
<line x1="422.81" y1="498.90" x2="422.81" y2="502.70" stroke="#262626" stroke-width="0.9"/>
<line x1="430.24" y1="498.90" x2="430.24" y2="500.90" stroke="#262626" stroke-width="0.8"/>
<line x1="437.66" y1="498.90" x2="437.66" y2="500.90" stroke="#262626" stroke-width="0.8"/>
<line x1="445.08" y1="498.90" x2="445.08" y2="500.90" stroke="#262626" stroke-width="0.8"/>
<line x1="452.50" y1="498.90" x2="452.50" y2="502.70" stroke="#262626" stroke-width="0.9"/>
<line x1="459.93" y1="498.90" x2="459.93" y2="500.90" stroke="#262626" stroke-width="0.8"/>
<line x1="467.35" y1="498.90" x2="467.35" y2="500.90" stroke="#262626" stroke-width="0.8"/>
<line x1="474.77" y1="498.90" x2="474.77" y2="500.90" stroke="#262626" stroke-width="0.8"/>
<line x1="482.19" y1="498.90" x2="482.19" y2="502.70" stroke="#262626" stroke-width="0.9"/>
<line x1="489.62" y1="498.90" x2="489.62" y2="500.90" stroke="#262626" stroke-width="0.8"/>
<line x1="497.04" y1="498.90" x2="497.04" y2="500.90" stroke="#262626" stroke-width="0.8"/>
<line x1="504.46" y1="498.90" x2="504.46" y2="500.90" stroke="#262626" stroke-width="0.8"/>
<line x1="511.88" y1="498.90" x2="511.88" y2="502.70" stroke="#262626" stroke-width="0.9"/>
<line x1="519.31" y1="498.90" x2="519.31" y2="500.90" stroke="#262626" stroke-width="0.8"/>
<line x1="526.73" y1="498.90" x2="526.73" y2="500.90" stroke="#262626" stroke-width="0.8"/>
<line x1="534.15" y1="498.90" x2="534.15" y2="500.90" stroke="#262626" stroke-width="0.8"/>
<line x1="541.57" y1="498.90" x2="541.57" y2="502.70" stroke="#262626" stroke-width="0.9"/>
<line x1="549.00" y1="498.90" x2="549.00" y2="500.90" stroke="#262626" stroke-width="0.8"/>
<line x1="556.42" y1="498.90" x2="556.42" y2="500.90" stroke="#262626" stroke-width="0.8"/>
<line x1="563.84" y1="498.90" x2="563.84" y2="500.90" stroke="#262626" stroke-width="0.8"/>
<line x1="571.26" y1="498.90" x2="571.26" y2="502.70" stroke="#262626" stroke-width="0.9"/>
<line x1="578.68" y1="498.90" x2="578.68" y2="500.90" stroke="#262626" stroke-width="0.8"/>
<line x1="586.11" y1="498.90" x2="586.11" y2="500.90" stroke="#262626" stroke-width="0.8"/>
<line x1="593.53" y1="498.90" x2="593.53" y2="500.90" stroke="#262626" stroke-width="0.8"/>
<line x1="600.95" y1="498.90" x2="600.95" y2="502.70" stroke="#262626" stroke-width="0.9"/>
<line x1="608.38" y1="498.90" x2="608.38" y2="500.90" stroke="#262626" stroke-width="0.8"/>
<line x1="615.80" y1="498.90" x2="615.80" y2="500.90" stroke="#262626" stroke-width="0.8"/>
<line x1="623.22" y1="498.90" x2="623.22" y2="500.90" stroke="#262626" stroke-width="0.8"/>
<line x1="630.64" y1="498.90" x2="630.64" y2="502.70" stroke="#262626" stroke-width="0.9"/>
<line x1="638.07" y1="498.90" x2="638.07" y2="500.90" stroke="#262626" stroke-width="0.8"/>
<line x1="645.49" y1="498.90" x2="645.49" y2="500.90" stroke="#262626" stroke-width="0.8"/>
<line x1="652.91" y1="498.90" x2="652.91" y2="500.90" stroke="#262626" stroke-width="0.8"/>
<line x1="660.33" y1="498.90" x2="660.33" y2="502.70" stroke="#262626" stroke-width="0.9"/>
<line x1="667.75" y1="498.90" x2="667.75" y2="500.90" stroke="#262626" stroke-width="0.8"/>
<line x1="675.18" y1="498.90" x2="675.18" y2="500.90" stroke="#262626" stroke-width="0.8"/>
<line x1="682.60" y1="498.90" x2="682.60" y2="500.90" stroke="#262626" stroke-width="0.8"/>
<text x="393.12" y="511.40" font-size="7.4" text-anchor="middle" font-weight="normal" fill="#262626" textLength="19.4" lengthAdjust="spacingAndGlyphs" stroke="#262626" stroke-width="0.18">02Feb</text>
<text x="393.12" y="520.30" font-size="7.4" text-anchor="middle" font-weight="normal" fill="#262626" textLength="11.5" lengthAdjust="spacingAndGlyphs" stroke="#262626" stroke-width="0.18">00z</text>
<text x="422.81" y="511.40" font-size="7.4" text-anchor="middle" font-weight="normal" fill="#262626" textLength="19.4" lengthAdjust="spacingAndGlyphs" stroke="#262626" stroke-width="0.18">03Feb</text>
<text x="422.81" y="520.30" font-size="7.4" text-anchor="middle" font-weight="normal" fill="#262626" textLength="11.5" lengthAdjust="spacingAndGlyphs" stroke="#262626" stroke-width="0.18">00z</text>
<text x="452.50" y="511.40" font-size="7.4" text-anchor="middle" font-weight="normal" fill="#262626" textLength="19.4" lengthAdjust="spacingAndGlyphs" stroke="#262626" stroke-width="0.18">04Feb</text>
<text x="452.50" y="520.30" font-size="7.4" text-anchor="middle" font-weight="normal" fill="#262626" textLength="11.5" lengthAdjust="spacingAndGlyphs" stroke="#262626" stroke-width="0.18">00z</text>
<text x="482.19" y="511.40" font-size="7.4" text-anchor="middle" font-weight="normal" fill="#262626" textLength="19.4" lengthAdjust="spacingAndGlyphs" stroke="#262626" stroke-width="0.18">05Feb</text>
<text x="482.19" y="520.30" font-size="7.4" text-anchor="middle" font-weight="normal" fill="#262626" textLength="11.5" lengthAdjust="spacingAndGlyphs" stroke="#262626" stroke-width="0.18">00z</text>
<text x="511.88" y="511.40" font-size="7.4" text-anchor="middle" font-weight="normal" fill="#262626" textLength="19.4" lengthAdjust="spacingAndGlyphs" stroke="#262626" stroke-width="0.18">06Feb</text>
<text x="511.88" y="520.30" font-size="7.4" text-anchor="middle" font-weight="normal" fill="#262626" textLength="11.5" lengthAdjust="spacingAndGlyphs" stroke="#262626" stroke-width="0.18">00z</text>
<text x="541.57" y="511.40" font-size="7.4" text-anchor="middle" font-weight="normal" fill="#262626" textLength="19.4" lengthAdjust="spacingAndGlyphs" stroke="#262626" stroke-width="0.18">07Feb</text>
<text x="541.57" y="520.30" font-size="7.4" text-anchor="middle" font-weight="normal" fill="#262626" textLength="11.5" lengthAdjust="spacingAndGlyphs" stroke="#262626" stroke-width="0.18">00z</text>
<text x="571.26" y="511.40" font-size="7.4" text-anchor="middle" font-weight="normal" fill="#262626" textLength="19.4" lengthAdjust="spacingAndGlyphs" stroke="#262626" stroke-width="0.18">08Feb</text>
<text x="571.26" y="520.30" font-size="7.4" text-anchor="middle" font-weight="normal" fill="#262626" textLength="11.5" lengthAdjust="spacingAndGlyphs" stroke="#262626" stroke-width="0.18">00z</text>
<text x="600.95" y="511.40" font-size="7.4" text-anchor="middle" font-weight="normal" fill="#262626" textLength="19.4" lengthAdjust="spacingAndGlyphs" stroke="#262626" stroke-width="0.18">09Feb</text>
<text x="600.95" y="520.30" font-size="7.4" text-anchor="middle" font-weight="normal" fill="#262626" textLength="11.5" lengthAdjust="spacingAndGlyphs" stroke="#262626" stroke-width="0.18">00z</text>
<text x="630.64" y="511.40" font-size="7.4" text-anchor="middle" font-weight="normal" fill="#262626" textLength="19.4" lengthAdjust="spacingAndGlyphs" stroke="#262626" stroke-width="0.18">10Feb</text>
<text x="630.64" y="520.30" font-size="7.4" text-anchor="middle" font-weight="normal" fill="#262626" textLength="11.5" lengthAdjust="spacingAndGlyphs" stroke="#262626" stroke-width="0.18">00z</text>
<text x="660.33" y="511.40" font-size="7.4" text-anchor="middle" font-weight="normal" fill="#262626" textLength="19.4" lengthAdjust="spacingAndGlyphs" stroke="#262626" stroke-width="0.18">11Feb</text>
<text x="660.33" y="520.30" font-size="7.4" text-anchor="middle" font-weight="normal" fill="#262626" textLength="11.5" lengthAdjust="spacingAndGlyphs" stroke="#262626" stroke-width="0.18">00z</text>
<text x="0" y="0" font-size="8.2" text-anchor="middle" fill="#262626" textLength="107.5" lengthAdjust="spacingAndGlyphs" transform="translate(363.10,427.65) rotate(-90)">700-500 hPa Humidity (%)</text>
<text x="679.00" y="365.80" font-size="8.4" text-anchor="end" font-weight="bold" fill="#111" textLength="58.8" lengthAdjust="spacingAndGlyphs">Mid-Level RH</text>
<line x1="389.00" y1="449.00" x2="404.20" y2="449.00" stroke="#08519c" stroke-width="2.0"/>
<text x="408.80" y="451.60" font-size="7.4" text-anchor="start" font-weight="normal" fill="#262626" textLength="35.9" lengthAdjust="spacingAndGlyphs" stroke="#262626" stroke-width="0.18">12z 06 Feb</text>
<line x1="389.00" y1="457.20" x2="404.20" y2="457.20" stroke="#2171b5" stroke-width="2.0"/>
<text x="408.80" y="459.80" font-size="7.4" text-anchor="start" font-weight="normal" fill="#262626" textLength="35.9" lengthAdjust="spacingAndGlyphs" stroke="#262626" stroke-width="0.18">06z 06 Feb</text>
<line x1="389.00" y1="465.40" x2="404.20" y2="465.40" stroke="#4292c6" stroke-width="2.0"/>
<text x="408.80" y="468.00" font-size="7.4" text-anchor="start" font-weight="normal" fill="#262626" textLength="35.9" lengthAdjust="spacingAndGlyphs" stroke="#262626" stroke-width="0.18">00z 06 Feb</text>
<line x1="389.00" y1="473.60" x2="404.20" y2="473.60" stroke="#6baed6" stroke-width="2.0"/>
<text x="408.80" y="476.20" font-size="7.4" text-anchor="start" font-weight="normal" fill="#262626" textLength="35.9" lengthAdjust="spacingAndGlyphs" stroke="#262626" stroke-width="0.18">12z 05 Feb</text>
<line x1="389.00" y1="481.80" x2="404.20" y2="481.80" stroke="#9ecae1" stroke-width="2.0"/>
<text x="408.80" y="484.40" font-size="7.4" text-anchor="start" font-weight="normal" fill="#262626" textLength="35.9" lengthAdjust="spacingAndGlyphs" stroke="#262626" stroke-width="0.18">06z 05 Feb</text>
<line x1="389.00" y1="490.00" x2="404.20" y2="490.00" stroke="#c6dbef" stroke-width="2.0"/>
<text x="408.80" y="492.60" font-size="7.4" text-anchor="start" font-weight="normal" fill="#262626" textLength="35.9" lengthAdjust="spacingAndGlyphs" stroke="#262626" stroke-width="0.18">00z 05 Feb</text>
<rect x="38.6" y="195.6" width="296.80" height="296.70" fill="none" stroke="#262626" stroke-width="1"/>
<line x1="34.80" y1="235.00" x2="38.60" y2="235.00" stroke="#262626" stroke-width="0.9"/>
<text x="31.20" y="237.60" font-size="7.4" text-anchor="end" font-weight="normal" fill="#262626" textLength="15.3" lengthAdjust="spacingAndGlyphs" stroke="#262626" stroke-width="0.18">15°S</text>
<line x1="34.80" y1="287.60" x2="38.60" y2="287.60" stroke="#262626" stroke-width="0.9"/>
<text x="31.20" y="290.20" font-size="7.4" text-anchor="end" font-weight="normal" fill="#262626" textLength="15.3" lengthAdjust="spacingAndGlyphs" stroke="#262626" stroke-width="0.18">20°S</text>
<line x1="34.80" y1="340.20" x2="38.60" y2="340.20" stroke="#262626" stroke-width="0.9"/>
<text x="31.20" y="342.80" font-size="7.4" text-anchor="end" font-weight="normal" fill="#262626" textLength="15.3" lengthAdjust="spacingAndGlyphs" stroke="#262626" stroke-width="0.18">25°S</text>
<line x1="34.80" y1="392.80" x2="38.60" y2="392.80" stroke="#262626" stroke-width="0.9"/>
<text x="31.20" y="395.40" font-size="7.4" text-anchor="end" font-weight="normal" fill="#262626" textLength="15.3" lengthAdjust="spacingAndGlyphs" stroke="#262626" stroke-width="0.18">30°S</text>
<line x1="34.80" y1="445.40" x2="38.60" y2="445.40" stroke="#262626" stroke-width="0.9"/>
<text x="31.20" y="448.00" font-size="7.4" text-anchor="end" font-weight="normal" fill="#262626" textLength="15.3" lengthAdjust="spacingAndGlyphs" stroke="#262626" stroke-width="0.18">35°S</text>
<line x1="64.30" y1="492.30" x2="64.30" y2="496.10" stroke="#262626" stroke-width="0.9"/>
<text x="64.30" y="504.70" font-size="7.4" text-anchor="middle" font-weight="normal" fill="#262626" textLength="15.8" lengthAdjust="spacingAndGlyphs" stroke="#262626" stroke-width="0.18">65°E</text>
<line x1="116.70" y1="492.30" x2="116.70" y2="496.10" stroke="#262626" stroke-width="0.9"/>
<text x="116.70" y="504.70" font-size="7.4" text-anchor="middle" font-weight="normal" fill="#262626" textLength="15.8" lengthAdjust="spacingAndGlyphs" stroke="#262626" stroke-width="0.18">70°E</text>
<line x1="169.10" y1="492.30" x2="169.10" y2="496.10" stroke="#262626" stroke-width="0.9"/>
<text x="169.10" y="504.70" font-size="7.4" text-anchor="middle" font-weight="normal" fill="#262626" textLength="15.8" lengthAdjust="spacingAndGlyphs" stroke="#262626" stroke-width="0.18">75°E</text>
<line x1="221.50" y1="492.30" x2="221.50" y2="496.10" stroke="#262626" stroke-width="0.9"/>
<text x="221.50" y="504.70" font-size="7.4" text-anchor="middle" font-weight="normal" fill="#262626" textLength="15.8" lengthAdjust="spacingAndGlyphs" stroke="#262626" stroke-width="0.18">80°E</text>
<line x1="273.90" y1="492.30" x2="273.90" y2="496.10" stroke="#262626" stroke-width="0.9"/>
<text x="273.90" y="504.70" font-size="7.4" text-anchor="middle" font-weight="normal" fill="#262626" textLength="15.8" lengthAdjust="spacingAndGlyphs" stroke="#262626" stroke-width="0.18">85°E</text>
<line x1="326.30" y1="492.30" x2="326.30" y2="496.10" stroke="#262626" stroke-width="0.9"/>
<text x="326.30" y="504.70" font-size="7.4" text-anchor="middle" font-weight="normal" fill="#262626" textLength="15.8" lengthAdjust="spacingAndGlyphs" stroke="#262626" stroke-width="0.18">90°E</text>
<text x="331.40" y="206.80" font-size="8.4" text-anchor="end" font-weight="bold" fill="#111" textLength="23.0" lengthAdjust="spacingAndGlyphs">Track</text>
<line x1="42.10" y1="202.90" x2="57.30" y2="202.90" stroke="#1a1a1a" stroke-width="2.0"/>
<text x="61.90" y="205.50" font-size="7.4" text-anchor="start" font-weight="normal" fill="#262626" textLength="15.9" lengthAdjust="spacingAndGlyphs" stroke="#262626" stroke-width="0.18">BEST</text>
<line x1="42.10" y1="211.10" x2="57.30" y2="211.10" stroke="#08519c" stroke-width="2.0"/>
<text x="61.90" y="213.70" font-size="7.4" text-anchor="start" font-weight="normal" fill="#262626" textLength="35.9" lengthAdjust="spacingAndGlyphs" stroke="#262626" stroke-width="0.18">12z 06 Feb</text>
<line x1="42.10" y1="219.30" x2="57.30" y2="219.30" stroke="#2171b5" stroke-width="2.0"/>
<text x="61.90" y="221.90" font-size="7.4" text-anchor="start" font-weight="normal" fill="#262626" textLength="35.9" lengthAdjust="spacingAndGlyphs" stroke="#262626" stroke-width="0.18">06z 06 Feb</text>
<line x1="42.10" y1="227.50" x2="57.30" y2="227.50" stroke="#4292c6" stroke-width="2.0"/>
<text x="61.90" y="230.10" font-size="7.4" text-anchor="start" font-weight="normal" fill="#262626" textLength="35.9" lengthAdjust="spacingAndGlyphs" stroke="#262626" stroke-width="0.18">00z 06 Feb</text>
<line x1="42.10" y1="235.70" x2="57.30" y2="235.70" stroke="#6baed6" stroke-width="2.0"/>
<text x="61.90" y="238.30" font-size="7.4" text-anchor="start" font-weight="normal" fill="#262626" textLength="35.9" lengthAdjust="spacingAndGlyphs" stroke="#262626" stroke-width="0.18">12z 05 Feb</text>
<line x1="42.10" y1="243.90" x2="57.30" y2="243.90" stroke="#9ecae1" stroke-width="2.0"/>
<text x="61.90" y="246.50" font-size="7.4" text-anchor="start" font-weight="normal" fill="#262626" textLength="35.9" lengthAdjust="spacingAndGlyphs" stroke="#262626" stroke-width="0.18">06z 05 Feb</text>
<line x1="42.10" y1="252.10" x2="57.30" y2="252.10" stroke="#c6dbef" stroke-width="2.0"/>
<text x="61.90" y="254.70" font-size="7.4" text-anchor="start" font-weight="normal" fill="#262626" textLength="35.9" lengthAdjust="spacingAndGlyphs" stroke="#262626" stroke-width="0.18">00z 05 Feb</text>
<line x1="42.10" y1="260.30" x2="57.30" y2="260.30" stroke="#6e6e6e" stroke-width="2.0"/>
<text x="61.90" y="262.90" font-size="7.4" text-anchor="start" font-weight="normal" fill="#262626" textLength="16.7" lengthAdjust="spacingAndGlyphs" stroke="#262626" stroke-width="0.18">JTWC</text>
<polyline points="293.6,273.6 281.4,276.4 271.4,281.4 251.4,287.1 232.0,296.2 210.0,304.5 187.0,307.3 159.0,310.5 137.0,314.2 125.0,317.5 115.0,323.5 104.0,335.5 95.0,346.0 89.0,353.5 86.0,358.0" fill="none" stroke="#c6dbef" stroke-width="1.6" stroke-linejoin="round" stroke-linecap="butt"/>
<polyline points="271.4,280.0 251.4,286.5 232.0,294.6 210.0,302.0 187.0,304.7 159.0,308.5 137.0,312.5 125.0,316.0 115.0,322.5 105.0,334.0 96.0,344.5 90.0,352.0 87.0,357.0" fill="none" stroke="#9ecae1" stroke-width="1.6" stroke-linejoin="round" stroke-linecap="butt"/>
<polyline points="255.7,277.8 232.0,292.5 210.0,299.8 187.0,301.3 159.0,305.0 137.0,310.7 125.0,314.7 115.0,321.5 106.0,333.0 98.0,343.0 92.0,350.5 88.5,356.0" fill="none" stroke="#6baed6" stroke-width="1.6" stroke-linejoin="round" stroke-linecap="butt"/>
<polyline points="255.7,277.3 232.0,289.5 210.0,297.6 187.0,298.2 159.0,302.0 137.0,307.2 125.0,311.5 115.0,320.7 108.0,333.0 102.5,345.0 100.6,360.0 100.4,375.0 100.4,383.3 103.0,399.1" fill="none" stroke="#4292c6" stroke-width="1.6" stroke-linejoin="round" stroke-linecap="butt"/>
<polyline points="246.0,281.0 214.0,292.2 187.0,294.8 159.0,298.5 137.0,304.2 125.0,308.3 121.0,310.4 114.1,316.4 109.0,324.1 103.9,340.0 99.0,352.0 95.9,363.0 93.6,378.1 87.3,413.7" fill="none" stroke="#2171b5" stroke-width="1.6" stroke-linejoin="round" stroke-linecap="butt"/>
<polyline points="237.0,282.6 214.0,289.3 187.0,291.2 159.0,294.5 137.7,300.5 125.0,303.1 118.0,308.5 112.4,313.9 107.3,318.0 102.1,329.3 97.0,340.0 91.0,352.0 86.0,363.0 83.6,375.0 82.4,381.0 80.5,400.1" fill="none" stroke="#08519c" stroke-width="1.6" stroke-linejoin="round" stroke-linecap="butt"/>
<polyline points="335.4,258.6 316.4,265.3 293.6,271.4 281.4,272.9 271.4,273.6 261.4,275.0 255.7,277.1 246.4,279.3 237.0,282.3 229.3,284.3" fill="none" stroke="#1a1a1a" stroke-width="1.6" stroke-linejoin="round" stroke-linecap="butt"/>
<polyline points="229.3,284.3 140.3,293.6 112.6,305.0 100.6,337.0 109.3,389.6" fill="none" stroke="#6e6e6e" stroke-width="1.6" stroke-linejoin="round" stroke-linecap="butt"/>
<circle cx="229.3" cy="284.3" r="2.3" fill="#6e6e6e"/>
<circle cx="293.6" cy="271.6" r="2.2" fill="#1a1a1a"/>
<circle cx="252.9" cy="280.0" r="2.2" fill="#1a1a1a"/>
<circle cx="252.1" cy="285.0" r="2.2" fill="#1a1a1a"/>
<circle cx="250.7" cy="289.0" r="2.2" fill="#1a1a1a"/>
<circle cx="214.0" cy="289.3" r="2.2" fill="#1a1a1a"/>
<circle cx="208.9" cy="291.9" r="2.2" fill="#1a1a1a"/>
<circle cx="209.8" cy="297.0" r="2.2" fill="#1a1a1a"/>
<circle cx="210.6" cy="299.6" r="2.2" fill="#1a1a1a"/>
<circle cx="159.2" cy="294.5" r="2.2" fill="#1a1a1a"/>
<circle cx="158.3" cy="299.6" r="2.2" fill="#1a1a1a"/>
<circle cx="150.6" cy="305.6" r="2.2" fill="#1a1a1a"/>
<circle cx="154.0" cy="308.2" r="2.2" fill="#1a1a1a"/>
<circle cx="159.2" cy="310.2" r="2.2" fill="#1a1a1a"/>
<circle cx="121.8" cy="304.9" r="2.2" fill="#1a1a1a"/>
<circle cx="121.0" cy="310.4" r="2.2" fill="#1a1a1a"/>
<circle cx="115.0" cy="320.7" r="2.2" fill="#1a1a1a"/>
<circle cx="116.0" cy="322.5" r="2.2" fill="#1a1a1a"/>
<circle cx="101.6" cy="344.7" r="2.2" fill="#1a1a1a"/>
<circle cx="89.6" cy="353.3" r="2.2" fill="#1a1a1a"/>
<circle cx="86.1" cy="361.9" r="2.2" fill="#1a1a1a"/>
<circle cx="89.0" cy="364.1" r="2.2" fill="#1a1a1a"/>
<circle cx="100.4" cy="383.3" r="2.2" fill="#1a1a1a"/>
<circle cx="87.3" cy="413.7" r="2.2" fill="#1a1a1a"/>
<circle cx="250.0" cy="289.3" r="2.2" fill="#1a1a1a"/>
<circle cx="316.4" cy="265.3" r="2.0" fill="#fff" stroke="#1a1a1a" stroke-width="0.8"/>
<circle cx="271.4" cy="281.4" r="2.0" fill="#fff" stroke="#1a1a1a" stroke-width="0.8"/>
<circle cx="271.4" cy="284.4" r="2.0" fill="#fff" stroke="#1a1a1a" stroke-width="0.8"/>
<circle cx="232.9" cy="287.6" r="2.0" fill="#fff" stroke="#1a1a1a" stroke-width="0.8"/>
<circle cx="232.1" cy="292.7" r="2.0" fill="#fff" stroke="#1a1a1a" stroke-width="0.8"/>
<circle cx="232.9" cy="295.3" r="2.0" fill="#fff" stroke="#1a1a1a" stroke-width="0.8"/>
<circle cx="186.6" cy="291.0" r="2.0" fill="#fff" stroke="#1a1a1a" stroke-width="0.8"/>
<circle cx="185.7" cy="295.0" r="2.0" fill="#fff" stroke="#1a1a1a" stroke-width="0.8"/>
<circle cx="179.7" cy="300.0" r="2.0" fill="#fff" stroke="#1a1a1a" stroke-width="0.8"/>
<circle cx="181.5" cy="303.5" r="2.0" fill="#fff" stroke="#1a1a1a" stroke-width="0.8"/>
<circle cx="186.6" cy="305.3" r="2.0" fill="#fff" stroke="#1a1a1a" stroke-width="0.8"/>
<circle cx="137.7" cy="301.0" r="2.0" fill="#fff" stroke="#1a1a1a" stroke-width="0.8"/>
<circle cx="136.9" cy="305.6" r="2.0" fill="#fff" stroke="#1a1a1a" stroke-width="0.8"/>
<circle cx="112.4" cy="313.9" r="2.0" fill="#fff" stroke="#1a1a1a" stroke-width="0.8"/>
<circle cx="99.9" cy="333.9" r="2.0" fill="#fff" stroke="#1a1a1a" stroke-width="0.8"/>
<circle cx="99.9" cy="350.4" r="2.0" fill="#fff" stroke="#1a1a1a" stroke-width="0.8"/>
<circle cx="93.6" cy="378.1" r="2.0" fill="#fff" stroke="#1a1a1a" stroke-width="0.8"/>
<circle cx="80.5" cy="400.1" r="2.0" fill="#fff" stroke="#1a1a1a" stroke-width="0.8"/>
<circle cx="49.6" cy="476.1" r="2.1" fill="#1a1a1a"/>
<circle cx="49.6" cy="484.3" r="1.9" fill="#fff" stroke="#1a1a1a" stroke-width="0.8"/>
<text x="61.60" y="478.50" font-size="7.4" text-anchor="start" font-weight="normal" fill="#262626" textLength="23.2" lengthAdjust="spacingAndGlyphs" stroke="#262626" stroke-width="0.18">00 UTC</text>
<text x="61.60" y="486.80" font-size="7.4" text-anchor="start" font-weight="normal" fill="#262626" textLength="23.2" lengthAdjust="spacingAndGlyphs" stroke="#262626" stroke-width="0.18">12 UTC</text>
<g>
<path d="M3.0,512.6 C3.2,519.5 7,523.8 11.8,523.8 C16.8,523.8 20.4,519.2 20.4,512.0 C20.4,510.8 20.2,510.4 19.6,510.9 C17.4,514.4 14.5,516.6 11.8,517.2 C8.6,516.6 5.6,514.6 3.6,512.0 Z" fill="#1d87d3"/>
<path d="M4.6,509.4 C5.6,507.2 8.4,505.9 11.9,505.9 C15.4,505.9 18.2,507.2 19.2,509.3 C17.2,512.4 14.6,515.4 11.8,516.8 C9.0,515.4 6.5,512.6 4.6,509.4 Z" fill="#1b2f72"/>
<path d="M8.6,509.6 L15.2,509.6 L14.6,510.6 L9.2,510.6 Z" fill="#8d97c0"/>
<circle cx="30.6" cy="514.6" r="4.6" fill="#5a74a8"/>
<circle cx="29.6" cy="513.6" r="2.0" fill="#7f9a8e" opacity="0.8"/>
<path d="M34.4,509.3 C33.2,508.1 31.6,507.6 29.9,507.6 C26.1,507.6 23.7,510.6 23.7,514.6 C23.7,518.7 26.1,521.7 29.9,521.7 C31.7,521.7 33.3,521.1 34.5,519.9 L34.0,518.9 C33.0,519.8 31.8,520.2 30.5,520.2 C27.7,520.2 25.8,517.9 25.8,514.6 C25.8,511.3 27.7,509.0 30.5,509.0 C31.8,509.0 33.0,509.4 33.9,510.2 Z" fill="#1f3585"/>
<path d="M35.9,507.7 H39.2 V508.5 H38.6 V520.8 H39.2 V521.7 H35.9 V520.8 H36.5 V508.5 H35.9 Z" fill="#1f3a8a"/>
<path fill-rule="evenodd" d="M41.8,507.8 H46.6 C49.5,507.8 50.6,509.5 50.6,511.2 C50.6,513.0 49.5,514.2 47.8,514.7 L51.8,521.6 H48.8 L45.3,515.1 H44.4 V521.6 H41.8 Z M44.4,509.5 V513.4 H46.3 C47.6,513.4 48.1,512.5 48.1,511.4 C48.1,510.3 47.6,509.5 46.3,509.5 Z" fill="#22489a"/>
<path fill-rule="evenodd" d="M49.8,521.6 L57.0,507.8 H57.6 L63.8,521.6 H60.6 L59.3,518.4 H54.2 L52.6,521.6 Z M55.0,516.6 H58.6 L57.0,512.6 Z" fill="#22489a"/>
</g>
</svg></body></html>
